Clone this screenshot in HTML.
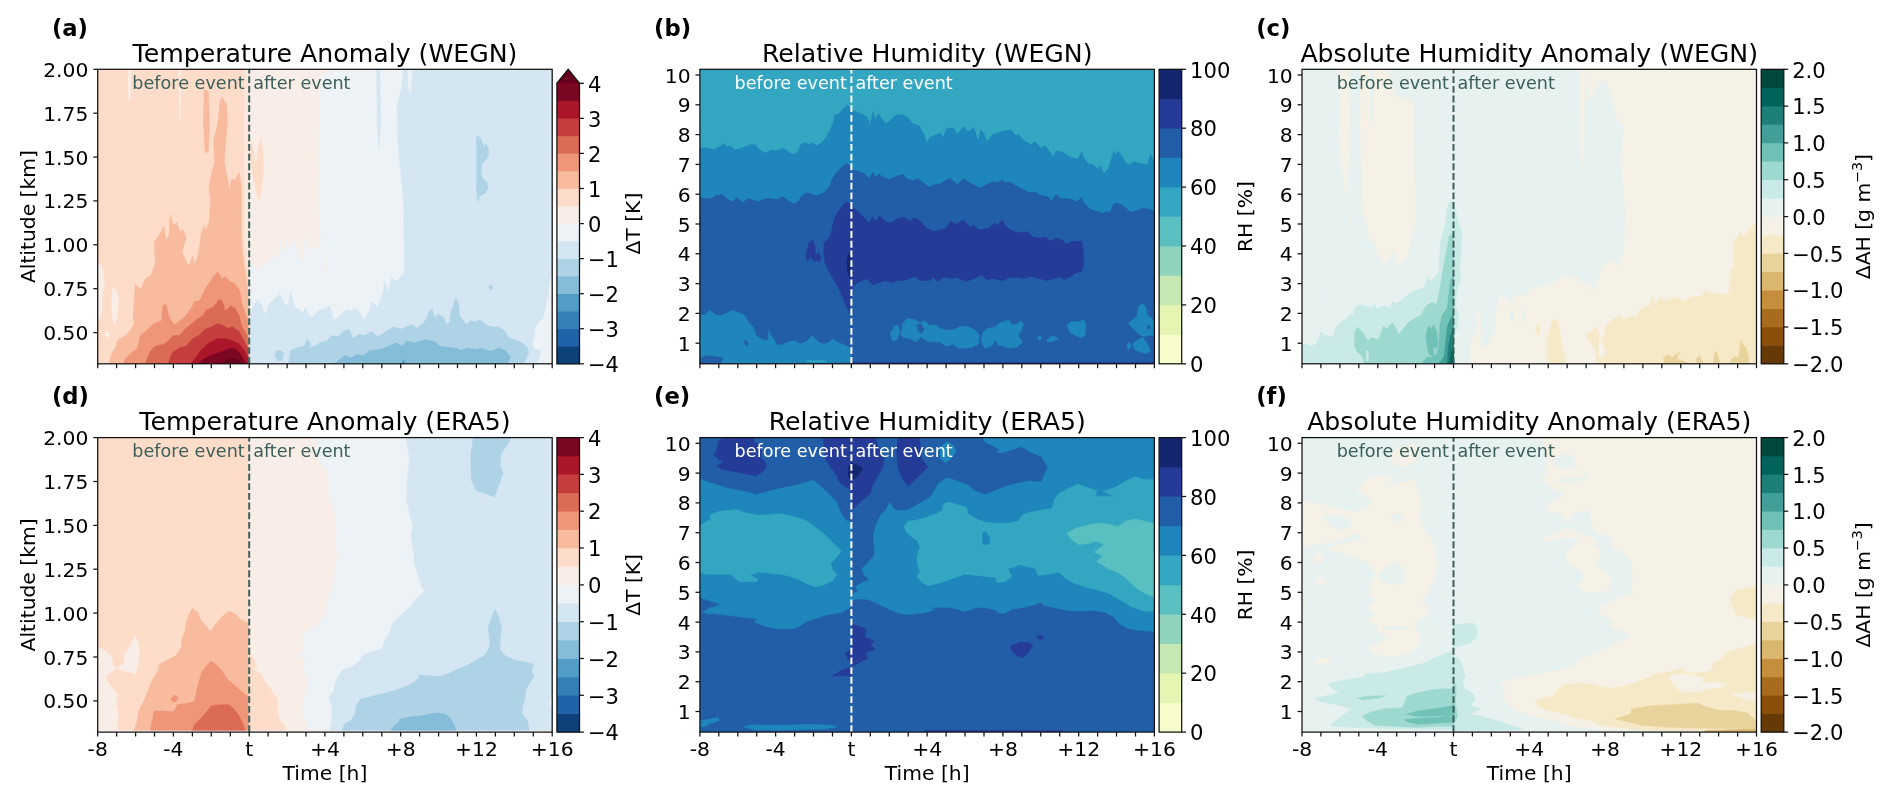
<!DOCTYPE html>
<html lang="en">
<head>
<meta charset="utf-8">
<title>Cold-front composite: temperature and humidity</title>
<style>html,body{margin:0;padding:0;background:#fff}svg{display:block;will-change:transform}</style>
</head>
<body>
<svg width="1892" height="802" viewBox="0 0 1892 802" font-family="'DejaVu Sans','Liberation Sans',sans-serif">
<rect width="1892" height="802" fill="#fff"/>
<g id="panel-a">
<clipPath id="clip-a"><rect x="97.7" y="69.3" width="454.5" height="294.5"/></clipPath>
<g clip-path="url(#clip-a)" shape-rendering="geometricPrecision">
<rect x="97.7" y="69.3" width="454.5" height="294.5" fill="#fddcc9"/>
<polygon points="109.8,364.2 110.9,355.7 116.2,346.2 117.2,340.9 126.8,334.5 131.0,329.2 134.2,322.9 133.1,314.4 134.2,301.7 135.3,284.7 140.6,289.0 145.8,278.4 151.1,275.2 155.4,263.6 154.3,242.4 158.6,236.0 163.9,226.5 166.0,240.3 169.2,235.0 170.2,214.8 173.4,225.4 176.6,222.2 179.7,231.8 182.9,229.7 186.1,238.1 184.0,244.5 181.9,251.9 186.1,261.4 189.3,265.7 192.5,256.1 194.6,264.6 198.8,253.0 200.9,236.0 204.1,225.4 205.2,231.8 209.4,221.2 210.5,200.0 209.0,187.1 211.5,174.4 214.7,162.8 213.6,140.5 217.9,123.6 220.0,102.4 222.1,97.1 226.4,104.5 227.4,123.6 225.3,144.7 224.2,161.7 227.4,178.6 229.5,191.4 231.7,178.6 234.8,180.8 239.1,172.3 241.2,187.1 241.2,229.5 241.2,229.7 242.2,249.8 244.4,266.7 246.5,279.0 247.8,289.0 248.4,297.5 248.6,364.2" fill="#f8bb9e" stroke="#f8bb9e" stroke-width="0.6"/>
<polygon points="204.1,89.7 208.3,91.8 209.4,123.6 208.3,151.1 205.2,153.2 203.5,123.6" fill="#f8bb9e" stroke="#f8bb9e" stroke-width="0.6"/>
<polygon points="98.0,263.6 101.4,265.7 103.1,272.0 104.5,284.7 102.4,293.2 101.8,310.2 99.7,318.6 98.0,318.6" fill="#f9eee7" stroke="#f9eee7" stroke-width="0.6"/>
<polygon points="113.0,286.9 116.2,291.1 118.7,299.6 116.6,318.6 114.1,325.0 111.9,314.4 111.9,295.3" fill="#f9eee7" stroke="#f9eee7" stroke-width="0.6"/>
<polygon points="106.0,331.8 108.1,331.4 109.0,335.6 107.3,338.1 105.6,335.6" fill="#f9eee7" stroke="#f9eee7" stroke-width="0.6"/>
<polygon points="128.3,70.2 131.0,70.2 130.0,99.2 128.5,99.2" fill="#f9eee7" stroke="#f9eee7" stroke-width="0.6"/>
<polygon points="178.9,70.2 180.6,70.2 180.2,121.4 179.3,121.4" fill="#f9eee7" stroke="#f9eee7" stroke-width="0.6"/>
<polygon points="244.4,68.5 247.6,68.5 247.6,262.0 246.6,262.0 244.4,235.0" fill="#fbe7dc" stroke="#fbe7dc" stroke-width="0.6"/>
<polygon points="122.5,364.2 126.8,356.8 137.4,348.3 140.6,335.6 148.0,329.2 153.3,323.9 161.7,320.8 162.8,305.9 166.0,303.8 169.2,317.6 174.4,325.0 179.7,320.8 186.1,315.5 191.4,308.1 194.6,301.7 199.9,300.6 205.2,289.0 210.5,281.6 213.6,276.3 217.9,272.0 222.1,279.4 225.3,276.3 229.5,281.6 234.8,283.7 238.6,289.0 240.1,293.4 242.2,305.1 245.2,313.6 247.3,318.0 248.2,325.0 248.6,364.2" fill="#ee9677" stroke="#ee9677" stroke-width="0.6"/>
<polygon points="144.8,364.2 150.1,351.5 155.4,346.2 164.9,344.1 173.4,335.6 179.7,335.6 185.0,329.2 190.3,325.0 196.7,319.7 203.1,315.5 206.2,310.2 213.6,307.0 218.9,299.6 222.1,300.6 225.3,311.2 230.6,305.9 234.8,308.1 239.1,315.5 241.2,325.0 247.1,335.6 248.6,364.2" fill="#db6b55" stroke="#db6b55" stroke-width="0.6"/>
<polygon points="168.1,364.2 172.3,352.5 178.7,348.3 186.1,346.2 192.5,338.8 198.8,335.6 205.2,329.2 211.5,327.1 216.8,323.9 222.1,325.0 227.4,328.2 232.7,327.1 239.1,331.4 243.3,339.8 248.0,348.3 248.6,364.2" fill="#c53e3d" stroke="#c53e3d" stroke-width="0.6"/>
<polygon points="190.3,364.2 196.7,356.8 200.9,350.4 205.2,346.2 210.5,341.9 217.9,338.8 226.4,338.8 232.7,340.9 239.1,344.1 244.4,350.4 248.0,357.8 248.6,364.2" fill="#ab162a" stroke="#ab162a" stroke-width="0.6"/>
<polygon points="197.8,364.2 203.5,359.3 208.3,356.8 213.6,354.7 222.1,351.5 230.6,348.3 235.9,349.4 240.1,353.6 243.3,358.9 246.3,364.2" fill="#7c0722" stroke="#7c0722" stroke-width="0.6"/>
<polygon points="222.1,364.2 225.3,360.6 232.7,358.5 238.6,360.2 241.6,364.2" fill="#67001f" stroke="#67001f" stroke-width="0.6"/>
<polygon points="249.2,68.5 553.0,68.5 553.0,364.5 249.2,364.5" fill="#ecf2f5" stroke="#ecf2f5" stroke-width="0.6"/>
<polygon points="249.2,68.5 332.9,68.5 332.3,72.3 323.4,72.7 320.2,81.2 319.2,102.4 318.5,144.7 318.1,187.1 318.1,199.8 319.2,221.2 320.2,242.4 317.0,249.8 312.8,244.5 308.6,253.0 305.4,227.5 302.2,261.4 298.0,250.8 293.7,236.0 290.6,248.7 287.4,240.3 283.1,253.0 280.0,235.0 277.8,261.4 274.7,245.6 273.6,257.2 266.2,263.6 257.7,268.9 250.3,263.6 249.2,262.0" fill="#f9eee7" stroke="#f9eee7" stroke-width="0.6"/>
<polygon points="323.8,261.4 325.9,261.4 325.9,273.1 323.8,273.1" fill="#f9eee7" stroke="#f9eee7" stroke-width="0.6"/>
<polygon points="250.3,152.0 251.8,141.0 253.5,150.0 255.3,168.0 256.8,160.0 258.3,146.0 260.8,138.0 263.0,150.0 263.3,175.0 261.2,190.0 258.7,200.0 256.5,192.0 254.0,180.0 251.3,166.0" fill="#fddcc9" stroke="#fddcc9" stroke-width="0.6"/>
<polygon points="249.2,364.2 249.7,318.6 253.5,305.9 257.7,299.6 261.9,305.9 265.1,315.5 269.4,303.8 274.7,298.5 280.0,294.3 284.2,303.8 288.4,305.9 290.6,293.2 294.8,308.1 299.0,309.1 302.2,314.4 305.4,308.1 308.6,315.5 312.8,317.6 318.1,310.2 325.5,309.1 329.7,305.9 332.9,317.6 336.1,319.7 341.4,314.4 346.7,309.1 350.9,311.2 355.2,308.1 359.4,312.3 363.6,320.8 368.9,312.3 372.1,301.7 377.4,307.0 382.7,295.3 384.8,281.6 388.0,293.2 391.2,278.4 396.5,281.6 402.8,274.2 399.2,281.6 404.5,272.0 403.5,200.0 402.4,187.1 400.3,165.9 398.2,144.7 397.1,105.6 402.4,85.4 403.5,68.5 553.0,68.5 553.0,364.5" fill="#d4e6f1" stroke="#d4e6f1" stroke-width="0.6"/>
<polygon points="376.8,69.5 379.7,69.5 380.6,123.6 378.9,146.9 377.2,123.6" fill="#d4e6f1" stroke="#d4e6f1" stroke-width="0.6"/>
<polygon points="407.7,69.5 411.9,69.5 410.7,91.8 409.0,91.8" fill="#ecf2f5" stroke="#ecf2f5" stroke-width="0.6"/>
<polygon points="288.4,364.2 290.6,350.4 299.0,347.2 304.3,346.2 307.5,338.8 310.7,344.1 308.6,348.3 314.9,346.2 321.3,341.9 326.6,340.9 331.9,335.6 338.2,336.7 343.5,331.4 348.8,329.2 353.1,338.8 358.3,334.5 364.7,335.6 372.1,331.4 377.4,336.7 384.8,332.4 393.3,327.1 400.7,328.8 401.4,329.2 407.7,326.1 413.0,325.0 416.2,328.2 422.5,323.9 426.8,318.6 428.9,311.2 432.1,309.1 434.2,317.6 438.4,314.4 443.7,317.6 446.9,325.0 450.1,321.8 450.5,314.4 453.3,305.9 455.4,298.5 458.6,303.8 459.6,315.5 463.9,321.8 467.0,325.0 470.2,320.8 475.5,321.8 479.7,319.7 486.1,325.0 492.5,327.1 498.8,327.1 505.2,331.4 508.3,337.7 513.6,339.8 520.0,341.9 526.4,346.2 528.9,352.5 525.3,360.0 522.8,364.2" fill="#aed3e6" stroke="#aed3e6" stroke-width="0.6"/>
<polygon points="275.7,351.5 280.0,350.0 284.2,353.6 282.1,360.0 277.8,361.0 275.1,355.7" fill="#aed3e6" stroke="#aed3e6" stroke-width="0.6"/>
<polygon points="476.6,135.2 480.8,138.4 484.0,146.9 486.1,143.7 489.3,152.2 486.1,159.6 481.9,163.8 480.8,172.3 482.9,178.6 487.2,182.9 488.2,188.2 485.0,193.5 479.7,195.6 477.6,201.9 476.6,187.1" fill="#aed3e6" stroke="#aed3e6" stroke-width="0.6"/>
<polygon points="488.9,285.8 492.0,285.2 492.9,288.6 490.3,289.8" fill="#aed3e6" stroke="#aed3e6" stroke-width="0.6"/>
<polygon points="332.9,364.2 338.2,361.0 344.6,355.7 350.9,357.8 357.3,354.7 363.6,355.7 370.0,350.4 380.6,349.4 389.1,346.2 395.4,343.0 402.8,346.2 403.5,345.1 406.7,340.9 414.1,343.0 424.7,339.8 435.3,341.9 439.5,346.2 448.0,347.2 456.4,348.3 460.7,350.4 467.0,348.3 475.5,349.4 481.9,348.3 490.3,351.5 498.8,348.3 505.2,350.4 510.5,356.8 506.9,364.2" fill="#84bcd9" stroke="#84bcd9" stroke-width="0.6"/>
<polygon points="401.4,364.2 402.8,361.0 405.0,360.0 404.5,361.0 405.6,364.2" fill="#529dc8" stroke="#529dc8" stroke-width="0.6"/>
<polygon points="552.8,278.4 550.7,278.4 548.6,295.3 543.3,318.6 540.1,320.8 535.9,327.1 534.8,337.7 532.7,344.1 534.8,348.3 542.2,350.4 539.1,358.9 536.5,364.2 552.8,364.2" fill="#ecf2f5" stroke="#ecf2f5" stroke-width="0.6"/>
<polygon points="552.8,348.3 551.4,356.8 548.6,364.2 552.8,364.2" fill="#f9eee7" stroke="#f9eee7" stroke-width="0.6"/>
</g>
<line x1="249.2" y1="363.8" x2="249.2" y2="69.3" stroke="#3b5f5a" stroke-width="2.0" stroke-dasharray="6.85 2.83"/>
<text x="244.7" y="88.6" font-size="17.6" text-anchor="end" fill="#3b5f5a" font-weight="normal">before event</text>
<text x="253.2" y="88.6" font-size="17.6" text-anchor="start" fill="#3b5f5a" font-weight="normal">after event</text>
<rect x="97.7" y="69.3" width="454.5" height="294.5" fill="none" stroke="#111" stroke-width="1.25"/>
<line x1="97.7" y1="363.8" x2="97.7" y2="368.2" stroke="#111" stroke-width="1.25"/>
<line x1="116.6" y1="363.8" x2="116.6" y2="368.2" stroke="#111" stroke-width="1.25"/>
<line x1="135.6" y1="363.8" x2="135.6" y2="368.2" stroke="#111" stroke-width="1.25"/>
<line x1="154.5" y1="363.8" x2="154.5" y2="368.2" stroke="#111" stroke-width="1.25"/>
<line x1="173.4" y1="363.8" x2="173.4" y2="368.2" stroke="#111" stroke-width="1.25"/>
<line x1="192.4" y1="363.8" x2="192.4" y2="368.2" stroke="#111" stroke-width="1.25"/>
<line x1="211.3" y1="363.8" x2="211.3" y2="368.2" stroke="#111" stroke-width="1.25"/>
<line x1="230.3" y1="363.8" x2="230.3" y2="368.2" stroke="#111" stroke-width="1.25"/>
<line x1="249.2" y1="363.8" x2="249.2" y2="368.2" stroke="#111" stroke-width="1.25"/>
<line x1="268.1" y1="363.8" x2="268.1" y2="368.2" stroke="#111" stroke-width="1.25"/>
<line x1="287.1" y1="363.8" x2="287.1" y2="368.2" stroke="#111" stroke-width="1.25"/>
<line x1="306.0" y1="363.8" x2="306.0" y2="368.2" stroke="#111" stroke-width="1.25"/>
<line x1="324.9" y1="363.8" x2="324.9" y2="368.2" stroke="#111" stroke-width="1.25"/>
<line x1="343.9" y1="363.8" x2="343.9" y2="368.2" stroke="#111" stroke-width="1.25"/>
<line x1="362.8" y1="363.8" x2="362.8" y2="368.2" stroke="#111" stroke-width="1.25"/>
<line x1="381.8" y1="363.8" x2="381.8" y2="368.2" stroke="#111" stroke-width="1.25"/>
<line x1="400.7" y1="363.8" x2="400.7" y2="368.2" stroke="#111" stroke-width="1.25"/>
<line x1="419.6" y1="363.8" x2="419.6" y2="368.2" stroke="#111" stroke-width="1.25"/>
<line x1="438.6" y1="363.8" x2="438.6" y2="368.2" stroke="#111" stroke-width="1.25"/>
<line x1="457.5" y1="363.8" x2="457.5" y2="368.2" stroke="#111" stroke-width="1.25"/>
<line x1="476.4" y1="363.8" x2="476.4" y2="368.2" stroke="#111" stroke-width="1.25"/>
<line x1="495.4" y1="363.8" x2="495.4" y2="368.2" stroke="#111" stroke-width="1.25"/>
<line x1="514.3" y1="363.8" x2="514.3" y2="368.2" stroke="#111" stroke-width="1.25"/>
<line x1="533.3" y1="363.8" x2="533.3" y2="368.2" stroke="#111" stroke-width="1.25"/>
<line x1="552.2" y1="363.8" x2="552.2" y2="368.2" stroke="#111" stroke-width="1.25"/>
<line x1="93.3" y1="332.6" x2="97.7" y2="332.6" stroke="#111" stroke-width="1.25"/>
<text x="88.4" y="340.1" font-size="20.3" text-anchor="end" fill="#000" font-weight="normal">0.50</text>
<line x1="93.3" y1="288.7" x2="97.7" y2="288.7" stroke="#111" stroke-width="1.25"/>
<text x="88.4" y="296.2" font-size="20.3" text-anchor="end" fill="#000" font-weight="normal">0.75</text>
<line x1="93.3" y1="244.8" x2="97.7" y2="244.8" stroke="#111" stroke-width="1.25"/>
<text x="88.4" y="252.3" font-size="20.3" text-anchor="end" fill="#000" font-weight="normal">1.00</text>
<line x1="93.3" y1="200.9" x2="97.7" y2="200.9" stroke="#111" stroke-width="1.25"/>
<text x="88.4" y="208.4" font-size="20.3" text-anchor="end" fill="#000" font-weight="normal">1.25</text>
<line x1="93.3" y1="157.1" x2="97.7" y2="157.1" stroke="#111" stroke-width="1.25"/>
<text x="88.4" y="164.6" font-size="20.3" text-anchor="end" fill="#000" font-weight="normal">1.50</text>
<line x1="93.3" y1="113.2" x2="97.7" y2="113.2" stroke="#111" stroke-width="1.25"/>
<text x="88.4" y="120.7" font-size="20.3" text-anchor="end" fill="#000" font-weight="normal">1.75</text>
<line x1="93.3" y1="69.3" x2="97.7" y2="69.3" stroke="#111" stroke-width="1.25"/>
<text x="88.4" y="76.8" font-size="20.3" text-anchor="end" fill="#000" font-weight="normal">2.00</text>
<text x="34.9" y="216.6" font-size="20.3" text-anchor="middle" fill="#000" font-weight="normal" transform="rotate(-90 34.9 216.6)">Altitude [km]</text>
<text x="325.0" y="61.7" font-size="25.2" text-anchor="middle" fill="#000" font-weight="normal">Temperature Anomaly (WEGN)</text>
<text x="51.9" y="36.1" font-size="22.7" text-anchor="start" fill="#000" font-weight="bold">(a)</text>
<rect x="556.9" y="345.97" width="22.6" height="18.13" fill="#0e4179"/>
<rect x="556.9" y="328.44" width="22.6" height="18.13" fill="#1f63a8"/>
<rect x="556.9" y="310.91" width="22.6" height="18.13" fill="#3480b9"/>
<rect x="556.9" y="293.38" width="22.6" height="18.13" fill="#529dc8"/>
<rect x="556.9" y="275.84" width="22.6" height="18.13" fill="#84bcd9"/>
<rect x="556.9" y="258.31" width="22.6" height="18.13" fill="#aed3e6"/>
<rect x="556.9" y="240.78" width="22.6" height="18.13" fill="#d4e6f1"/>
<rect x="556.9" y="223.25" width="22.6" height="18.13" fill="#ecf2f5"/>
<rect x="556.9" y="205.72" width="22.6" height="18.13" fill="#f9eee7"/>
<rect x="556.9" y="188.19" width="22.6" height="18.13" fill="#fddcc9"/>
<rect x="556.9" y="170.66" width="22.6" height="18.13" fill="#f8bb9e"/>
<rect x="556.9" y="153.12" width="22.6" height="18.13" fill="#ee9677"/>
<rect x="556.9" y="135.59" width="22.6" height="18.13" fill="#db6b55"/>
<rect x="556.9" y="118.06" width="22.6" height="18.13" fill="#c53e3d"/>
<rect x="556.9" y="100.53" width="22.6" height="18.13" fill="#ab162a"/>
<rect x="556.9" y="83.00" width="22.6" height="18.13" fill="#7c0722"/>
<polygon points="556.9,83.3 568.2,69.3 579.5,83.3" fill="#67001f"/>
<polygon points="556.9,363.8 556.9,83.3 568.2,69.3 579.5,83.3 579.5,363.8" fill="none" stroke="#111" stroke-width="1.25" stroke-linejoin="miter"/>
<line x1="579.5" y1="363.8" x2="583.9" y2="363.8" stroke="#111" stroke-width="1.25"/>
<text x="587.9" y="372.0" font-size="21.1" text-anchor="start" fill="#000" font-weight="normal">−4</text>
<line x1="579.5" y1="328.7" x2="583.9" y2="328.7" stroke="#111" stroke-width="1.25"/>
<text x="587.9" y="336.9" font-size="21.1" text-anchor="start" fill="#000" font-weight="normal">−3</text>
<line x1="579.5" y1="293.7" x2="583.9" y2="293.7" stroke="#111" stroke-width="1.25"/>
<text x="587.9" y="301.9" font-size="21.1" text-anchor="start" fill="#000" font-weight="normal">−2</text>
<line x1="579.5" y1="258.6" x2="583.9" y2="258.6" stroke="#111" stroke-width="1.25"/>
<text x="587.9" y="266.8" font-size="21.1" text-anchor="start" fill="#000" font-weight="normal">−1</text>
<line x1="579.5" y1="223.6" x2="583.9" y2="223.6" stroke="#111" stroke-width="1.25"/>
<text x="587.9" y="231.8" font-size="21.1" text-anchor="start" fill="#000" font-weight="normal">0</text>
<line x1="579.5" y1="188.5" x2="583.9" y2="188.5" stroke="#111" stroke-width="1.25"/>
<text x="587.9" y="196.7" font-size="21.1" text-anchor="start" fill="#000" font-weight="normal">1</text>
<line x1="579.5" y1="153.4" x2="583.9" y2="153.4" stroke="#111" stroke-width="1.25"/>
<text x="587.9" y="161.6" font-size="21.1" text-anchor="start" fill="#000" font-weight="normal">2</text>
<line x1="579.5" y1="118.4" x2="583.9" y2="118.4" stroke="#111" stroke-width="1.25"/>
<text x="587.9" y="126.6" font-size="21.1" text-anchor="start" fill="#000" font-weight="normal">3</text>
<line x1="579.5" y1="83.3" x2="583.9" y2="83.3" stroke="#111" stroke-width="1.25"/>
<text x="587.9" y="91.5" font-size="21.1" text-anchor="start" fill="#000" font-weight="normal">4</text>
<text x="640.0" y="223.6" font-size="20.3" text-anchor="middle" fill="#000" font-weight="normal" transform="rotate(-90 640.0 223.6)">ΔT [K]</text>
</g>
<g id="panel-b">
<clipPath id="clip-b"><rect x="699.9" y="69.3" width="454.5" height="294.5"/></clipPath>
<g clip-path="url(#clip-b)" shape-rendering="geometricPrecision">
<rect x="699.9" y="69.3" width="454.5" height="294.5" fill="#33a7c2"/>
<polygon points="697.0,147.9 700.2,147.9 707.6,147.9 713.9,150.0 719.2,146.9 723.5,143.7 726.7,146.9 729.8,145.8 735.1,150.0 742.6,147.9 750.0,144.7 755.3,144.7 759.5,150.0 765.9,153.2 771.2,150.0 776.4,151.1 782.8,147.9 790.2,153.2 795.5,154.3 798.7,150.0 800.8,144.7 805.1,142.6 809.3,144.7 812.5,142.6 816.7,145.8 822.0,142.6 826.2,137.3 830.5,128.9 833.7,121.4 834.7,115.1 838.9,114.0 843.2,108.7 847.4,105.6 850.6,107.7 851.2,109.8 856.5,111.9 861.8,114.0 867.1,117.2 869.9,125.7 872.8,111.9 875.6,119.3 878.8,114.0 882.0,119.3 886.2,123.6 890.4,120.4 895.7,115.1 902.1,114.7 907.4,117.2 912.7,123.6 919.0,125.7 923.3,133.1 927.1,143.7 929.6,137.3 934.9,135.2 940.2,133.1 943.4,137.3 946.6,128.9 952.9,127.8 957.2,134.2 963.5,126.7 967.8,132.0 974.1,127.8 977.9,141.6 980.9,129.9 983.7,133.1 986.8,141.6 993.2,134.2 997.0,133.1 1003.4,131.0 1010.8,129.9 1016.1,136.3 1018.2,134.2 1023.5,140.5 1030.9,144.7 1035.1,141.6 1040.4,147.9 1045.7,145.8 1050.0,152.2 1053.1,157.5 1056.3,151.1 1062.7,152.2 1069.0,156.4 1075.4,158.5 1078.6,158.5 1081.3,152.2 1084.9,159.6 1088.1,163.8 1093.4,164.9 1097.6,169.1 1100.4,165.9 1104.0,173.3 1108.2,169.1 1111.4,159.6 1113.5,152.2 1116.1,154.3 1118.8,151.1 1122.0,156.4 1126.2,163.8 1129.4,164.9 1134.7,161.7 1141.1,163.8 1147.4,164.9 1150.6,154.3 1153.8,161.7 1158.0,162.8 1157.0,364.5 697.0,364.5" fill="#1e86bb" stroke="#1e86bb" stroke-width="0.6"/>
<polygon points="697.0,197.7 700.2,197.7 705.5,198.8 710.8,198.8 716.1,195.6 722.4,194.5 727.7,199.8 732.0,201.9 737.3,197.7 742.6,203.0 747.8,198.8 752.1,199.8 758.4,201.9 764.8,198.8 771.2,198.8 776.4,199.8 782.8,196.7 788.1,200.9 794.5,204.1 798.7,200.9 801.9,195.6 807.2,192.4 812.5,194.5 817.8,195.6 824.1,192.4 829.4,187.1 832.6,178.6 836.8,172.3 842.1,167.0 846.4,163.8 850.6,165.9 851.2,170.2 857.6,171.2 863.9,173.3 869.2,178.6 872.8,172.3 875.6,177.6 878.8,174.4 884.1,177.6 889.4,179.7 895.7,176.5 903.1,174.4 906.3,178.6 912.7,180.8 918.0,178.6 923.3,182.9 928.6,187.1 933.9,185.0 940.2,183.9 946.6,179.7 950.8,178.6 957.2,185.0 963.5,178.6 969.9,182.9 974.1,185.0 979.4,188.2 985.8,185.0 993.2,181.8 997.0,182.9 1002.3,179.7 1005.5,182.9 1009.7,181.8 1016.1,186.1 1022.4,189.2 1028.8,192.4 1035.1,192.4 1041.5,195.6 1047.8,196.7 1051.0,200.9 1056.3,194.5 1060.6,198.8 1066.9,198.8 1072.2,199.8 1077.5,201.9 1081.3,197.7 1084.9,204.1 1090.2,209.4 1096.6,211.5 1102.9,213.6 1107.2,211.5 1110.3,212.5 1113.5,204.1 1116.7,203.0 1122.0,205.1 1126.2,208.3 1130.5,212.5 1136.8,210.4 1143.2,208.3 1149.5,209.4 1158.0,212.5 1157.0,364.5 697.0,364.5" fill="#225da8" stroke="#225da8" stroke-width="0.6"/>
<polygon points="850.0,313.3 846.4,305.9 842.1,295.3 837.9,286.9 833.7,279.4 829.4,272.0 825.2,263.6 823.7,253.0 824.1,242.4 828.4,239.2 831.5,231.8 833.7,221.2 836.8,213.8 842.1,206.4 846.4,202.1 850.6,203.8 851.2,206.4 856.5,210.6 862.9,215.9 869.2,223.3 872.4,216.9 875.6,221.2 879.8,215.9 885.1,221.2 890.4,223.3 896.8,219.1 904.2,216.9 909.5,221.2 914.8,218.0 920.1,221.2 925.4,227.5 933.9,231.8 940.2,229.7 945.5,228.6 950.8,221.2 956.1,224.4 963.5,220.1 969.9,227.5 974.1,225.4 978.4,229.7 988.9,228.6 994.2,223.3 997.0,225.4 1002.3,220.1 1006.5,227.5 1013.9,231.8 1020.3,232.8 1027.7,231.8 1032.0,237.1 1039.4,238.1 1045.7,237.1 1050.0,241.3 1056.3,238.1 1062.7,240.3 1065.9,244.5 1072.2,241.3 1081.7,241.3 1083.4,250.8 1083.9,263.6 1081.7,271.0 1075.4,273.1 1071.2,276.3 1064.8,279.4 1059.5,277.3 1054.2,278.4 1046.8,280.5 1039.4,278.4 1030.9,276.3 1024.5,278.4 1016.1,277.3 1009.7,277.3 1003.4,280.5 997.0,279.4 993.2,278.4 986.8,279.4 981.5,275.2 974.1,278.4 965.6,281.6 957.2,277.3 952.9,278.4 943.4,277.3 937.0,281.6 933.9,277.3 929.6,280.5 920.1,280.5 914.8,276.3 904.2,280.5 897.8,280.5 891.5,282.6 885.1,280.5 878.8,282.6 872.4,284.7 867.1,278.4 859.7,281.6 854.4,284.7 851.2,291.1 849.5,310.2" fill="#243c98" stroke="#243c98" stroke-width="0.6"/>
<polygon points="807.2,261.4 806.1,253.0 809.3,242.4 812.5,239.2 814.6,245.6 815.6,255.1 818.8,253.0 820.9,257.2 819.9,261.4 813.5,260.4 810.3,256.1" fill="#243c98" stroke="#243c98" stroke-width="0.6"/>
<polygon points="847.8,256.1 850.0,253.0 850.8,263.6 850.4,278.4 847.8,272.0 847.0,263.6" fill="#13266f" stroke="#13266f" stroke-width="0.6"/>
<polygon points="697.0,315.5 700.2,315.5 705.5,314.4 709.7,310.2 715.0,314.4 720.3,315.5 726.7,313.3 732.0,310.2 738.3,312.3 744.7,315.5 748.9,322.9 753.1,327.1 756.3,335.6 762.7,339.8 768.0,340.9 769.0,330.3 771.2,335.6 774.3,339.8 776.4,345.1 781.7,345.1 788.1,341.9 794.5,340.9 800.8,344.1 807.2,340.9 812.5,335.6 816.7,340.9 822.0,344.1 828.4,343.0 832.6,338.8 837.9,342.4 845.3,345.3 850.6,348.3 850.2,348.7 850.2,362.1 697.0,364.5" fill="#1e86bb" stroke="#1e86bb" stroke-width="0.6"/>
<polygon points="699.1,358.9 705.5,355.7 713.9,356.8 722.8,357.8 720.3,364.2 699.1,364.2" fill="#225da8" stroke="#225da8" stroke-width="0.6"/>
<polygon points="743.6,341.5 746.2,340.3 748.3,344.1 746.2,345.8" fill="#225da8" stroke="#225da8" stroke-width="0.6"/>
<polygon points="807.2,360.4 826.2,361.0 826.2,362.3 807.2,361.9" fill="#33a7c2" stroke="#33a7c2" stroke-width="0.6"/>
<polygon points="890.4,333.5 894.7,326.1 897.8,325.0 900.0,332.4 896.8,339.8 892.6,340.9" fill="#1e86bb" stroke="#1e86bb" stroke-width="0.6"/>
<polygon points="903.1,322.9 907.4,318.6 914.8,319.7 920.1,322.9 924.3,320.8 929.6,325.0 936.0,325.0 941.3,329.2 948.7,330.3 955.1,329.2 961.4,326.1 968.8,327.1 975.2,330.3 979.4,335.6 978.4,344.1 972.0,347.2 963.5,348.3 957.2,347.2 952.9,344.1 946.6,346.2 940.2,341.9 931.7,341.9 926.4,340.9 921.2,336.7 915.9,341.9 910.6,338.8 905.3,337.7 901.0,335.6" fill="#1e86bb" stroke="#1e86bb" stroke-width="0.6"/>
<polygon points="916.9,325.0 921.2,323.9 924.3,329.2 921.2,333.5 918.0,330.3" fill="#225da8" stroke="#225da8" stroke-width="0.6"/>
<polygon points="982.6,332.4 987.9,328.2 995.3,327.1 999.5,322.9 1007.0,321.8 1000.2,322.9 1005.5,321.8 1008.7,319.7 1011.8,325.0 1017.1,323.9 1020.3,320.8 1023.5,323.9 1021.4,330.3 1018.2,335.6 1022.4,341.9 1017.1,347.2 1009.7,348.3 1003.4,346.2 997.0,344.1 999.5,346.2 995.3,339.8 991.1,346.2 984.7,348.3 981.5,341.9" fill="#1e86bb" stroke="#1e86bb" stroke-width="0.6"/>
<polygon points="1066.9,325.0 1071.2,321.8 1078.6,321.8 1083.9,319.7 1086.0,325.0 1084.9,335.6 1080.7,337.7 1075.4,335.6 1070.1,332.4" fill="#1e86bb" stroke="#1e86bb" stroke-width="0.6"/>
<polygon points="1046.8,339.8 1053.1,335.6 1058.4,338.8 1054.2,340.9 1047.8,341.9" fill="#1e86bb" stroke="#1e86bb" stroke-width="0.6"/>
<polygon points="1037.3,337.7 1039.8,335.6 1041.9,338.1 1039.4,340.3" fill="#1e86bb" stroke="#1e86bb" stroke-width="0.6"/>
<polygon points="1128.4,322.9 1136.8,316.5 1138.9,305.9 1142.1,303.4 1145.3,305.9 1147.4,315.5 1154.8,320.8 1158.0,320.8 1158.0,335.6 1149.5,335.6 1143.2,336.7 1136.8,332.4 1132.6,328.2" fill="#1e86bb" stroke="#1e86bb" stroke-width="0.6"/>
<polygon points="1147.0,326.1 1149.5,325.0 1150.4,328.4 1147.8,329.2" fill="#225da8" stroke="#225da8" stroke-width="0.6"/>
<polygon points="1132.6,344.1 1137.9,339.8 1143.2,337.7 1147.4,344.1 1150.6,351.5 1145.3,353.6 1138.9,351.5 1134.7,349.4" fill="#1e86bb" stroke="#1e86bb" stroke-width="0.6"/>
<polygon points="1126.7,345.1 1129.4,342.4 1131.5,346.2 1128.4,349.4" fill="#1e86bb" stroke="#1e86bb" stroke-width="0.6"/>
<polygon points="852.0,362.3 1157.0,362.3 1157.0,364.5 852.0,364.5" fill="#243c98" stroke="#243c98" stroke-width="0.6"/>
</g>
<line x1="851.4" y1="363.8" x2="851.4" y2="69.3" stroke="#ffffff" stroke-width="2.0" stroke-dasharray="6.85 2.83"/>
<text x="846.9" y="88.6" font-size="17.6" text-anchor="end" fill="#ffffff" font-weight="normal">before event</text>
<text x="855.4" y="88.6" font-size="17.6" text-anchor="start" fill="#ffffff" font-weight="normal">after event</text>
<rect x="699.9" y="69.3" width="454.5" height="294.5" fill="none" stroke="#111" stroke-width="1.25"/>
<line x1="699.9" y1="363.8" x2="699.9" y2="368.2" stroke="#111" stroke-width="1.25"/>
<line x1="718.8" y1="363.8" x2="718.8" y2="368.2" stroke="#111" stroke-width="1.25"/>
<line x1="737.8" y1="363.8" x2="737.8" y2="368.2" stroke="#111" stroke-width="1.25"/>
<line x1="756.7" y1="363.8" x2="756.7" y2="368.2" stroke="#111" stroke-width="1.25"/>
<line x1="775.6" y1="363.8" x2="775.6" y2="368.2" stroke="#111" stroke-width="1.25"/>
<line x1="794.6" y1="363.8" x2="794.6" y2="368.2" stroke="#111" stroke-width="1.25"/>
<line x1="813.5" y1="363.8" x2="813.5" y2="368.2" stroke="#111" stroke-width="1.25"/>
<line x1="832.5" y1="363.8" x2="832.5" y2="368.2" stroke="#111" stroke-width="1.25"/>
<line x1="851.4" y1="363.8" x2="851.4" y2="368.2" stroke="#111" stroke-width="1.25"/>
<line x1="870.3" y1="363.8" x2="870.3" y2="368.2" stroke="#111" stroke-width="1.25"/>
<line x1="889.3" y1="363.8" x2="889.3" y2="368.2" stroke="#111" stroke-width="1.25"/>
<line x1="908.2" y1="363.8" x2="908.2" y2="368.2" stroke="#111" stroke-width="1.25"/>
<line x1="927.1" y1="363.8" x2="927.1" y2="368.2" stroke="#111" stroke-width="1.25"/>
<line x1="946.1" y1="363.8" x2="946.1" y2="368.2" stroke="#111" stroke-width="1.25"/>
<line x1="965.0" y1="363.8" x2="965.0" y2="368.2" stroke="#111" stroke-width="1.25"/>
<line x1="984.0" y1="363.8" x2="984.0" y2="368.2" stroke="#111" stroke-width="1.25"/>
<line x1="1002.9" y1="363.8" x2="1002.9" y2="368.2" stroke="#111" stroke-width="1.25"/>
<line x1="1021.8" y1="363.8" x2="1021.8" y2="368.2" stroke="#111" stroke-width="1.25"/>
<line x1="1040.8" y1="363.8" x2="1040.8" y2="368.2" stroke="#111" stroke-width="1.25"/>
<line x1="1059.7" y1="363.8" x2="1059.7" y2="368.2" stroke="#111" stroke-width="1.25"/>
<line x1="1078.7" y1="363.8" x2="1078.7" y2="368.2" stroke="#111" stroke-width="1.25"/>
<line x1="1097.6" y1="363.8" x2="1097.6" y2="368.2" stroke="#111" stroke-width="1.25"/>
<line x1="1116.5" y1="363.8" x2="1116.5" y2="368.2" stroke="#111" stroke-width="1.25"/>
<line x1="1135.5" y1="363.8" x2="1135.5" y2="368.2" stroke="#111" stroke-width="1.25"/>
<line x1="1154.4" y1="363.8" x2="1154.4" y2="368.2" stroke="#111" stroke-width="1.25"/>
<line x1="695.5" y1="343.2" x2="699.9" y2="343.2" stroke="#111" stroke-width="1.25"/>
<text x="690.6" y="350.7" font-size="20.3" text-anchor="end" fill="#000" font-weight="normal">1</text>
<line x1="695.5" y1="313.4" x2="699.9" y2="313.4" stroke="#111" stroke-width="1.25"/>
<text x="690.6" y="320.9" font-size="20.3" text-anchor="end" fill="#000" font-weight="normal">2</text>
<line x1="695.5" y1="283.6" x2="699.9" y2="283.6" stroke="#111" stroke-width="1.25"/>
<text x="690.6" y="291.1" font-size="20.3" text-anchor="end" fill="#000" font-weight="normal">3</text>
<line x1="695.5" y1="253.8" x2="699.9" y2="253.8" stroke="#111" stroke-width="1.25"/>
<text x="690.6" y="261.3" font-size="20.3" text-anchor="end" fill="#000" font-weight="normal">4</text>
<line x1="695.5" y1="224.0" x2="699.9" y2="224.0" stroke="#111" stroke-width="1.25"/>
<text x="690.6" y="231.5" font-size="20.3" text-anchor="end" fill="#000" font-weight="normal">5</text>
<line x1="695.5" y1="194.2" x2="699.9" y2="194.2" stroke="#111" stroke-width="1.25"/>
<text x="690.6" y="201.7" font-size="20.3" text-anchor="end" fill="#000" font-weight="normal">6</text>
<line x1="695.5" y1="164.4" x2="699.9" y2="164.4" stroke="#111" stroke-width="1.25"/>
<text x="690.6" y="171.9" font-size="20.3" text-anchor="end" fill="#000" font-weight="normal">7</text>
<line x1="695.5" y1="134.6" x2="699.9" y2="134.6" stroke="#111" stroke-width="1.25"/>
<text x="690.6" y="142.1" font-size="20.3" text-anchor="end" fill="#000" font-weight="normal">8</text>
<line x1="695.5" y1="104.8" x2="699.9" y2="104.8" stroke="#111" stroke-width="1.25"/>
<text x="690.6" y="112.3" font-size="20.3" text-anchor="end" fill="#000" font-weight="normal">9</text>
<line x1="695.5" y1="75.0" x2="699.9" y2="75.0" stroke="#111" stroke-width="1.25"/>
<text x="690.6" y="82.5" font-size="20.3" text-anchor="end" fill="#000" font-weight="normal">10</text>
<text x="927.2" y="61.7" font-size="25.2" text-anchor="middle" fill="#000" font-weight="normal">Relative Humidity (WEGN)</text>
<text x="654.1" y="36.1" font-size="22.7" text-anchor="start" fill="#000" font-weight="bold">(b)</text>
<rect x="1159.1" y="334.05" width="22.6" height="30.05" fill="#f8fcca"/>
<rect x="1159.1" y="304.60" width="22.6" height="30.05" fill="#e6f5b2"/>
<rect x="1159.1" y="275.15" width="22.6" height="30.05" fill="#c6e9b4"/>
<rect x="1159.1" y="245.70" width="22.6" height="30.05" fill="#8ed3ba"/>
<rect x="1159.1" y="216.25" width="22.6" height="30.05" fill="#59bfc0"/>
<rect x="1159.1" y="186.80" width="22.6" height="30.05" fill="#33a7c2"/>
<rect x="1159.1" y="157.35" width="22.6" height="30.05" fill="#1e86bb"/>
<rect x="1159.1" y="127.90" width="22.6" height="30.05" fill="#225da8"/>
<rect x="1159.1" y="98.45" width="22.6" height="30.05" fill="#243c98"/>
<rect x="1159.1" y="69.00" width="22.6" height="30.05" fill="#13266f"/>
<rect x="1159.1" y="69.3" width="22.6" height="294.5" fill="none" stroke="#111" stroke-width="1.25"/>
<line x1="1181.7" y1="363.8" x2="1186.1" y2="363.8" stroke="#111" stroke-width="1.25"/>
<text x="1190.1" y="372.0" font-size="21.1" text-anchor="start" fill="#000" font-weight="normal">0</text>
<line x1="1181.7" y1="304.9" x2="1186.1" y2="304.9" stroke="#111" stroke-width="1.25"/>
<text x="1190.1" y="313.1" font-size="21.1" text-anchor="start" fill="#000" font-weight="normal">20</text>
<line x1="1181.7" y1="246.0" x2="1186.1" y2="246.0" stroke="#111" stroke-width="1.25"/>
<text x="1190.1" y="254.2" font-size="21.1" text-anchor="start" fill="#000" font-weight="normal">40</text>
<line x1="1181.7" y1="187.1" x2="1186.1" y2="187.1" stroke="#111" stroke-width="1.25"/>
<text x="1190.1" y="195.3" font-size="21.1" text-anchor="start" fill="#000" font-weight="normal">60</text>
<line x1="1181.7" y1="128.2" x2="1186.1" y2="128.2" stroke="#111" stroke-width="1.25"/>
<text x="1190.1" y="136.4" font-size="21.1" text-anchor="start" fill="#000" font-weight="normal">80</text>
<line x1="1181.7" y1="69.3" x2="1186.1" y2="69.3" stroke="#111" stroke-width="1.25"/>
<text x="1190.1" y="77.5" font-size="21.1" text-anchor="start" fill="#000" font-weight="normal">100</text>
<text x="1252.3" y="216.6" font-size="20.3" text-anchor="middle" fill="#000" font-weight="normal" transform="rotate(-90 1252.3 216.6)">RH [%]</text>
</g>
<g id="panel-c">
<clipPath id="clip-c"><rect x="1302.0" y="69.3" width="454.5" height="294.5"/></clipPath>
<g clip-path="url(#clip-c)" shape-rendering="geometricPrecision">
<rect x="1302.0" y="69.3" width="454.5" height="294.5" fill="#e6f1f0"/>
<polygon points="1339.3,68.5 1348.8,68.5 1349.8,113.0 1348.8,155.3 1346.7,195.6 1344.6,187.1 1340.3,155.3 1338.8,140.5 1340.3,102.4" fill="#f5f1e6" stroke="#f5f1e6" stroke-width="0.6"/>
<polygon points="1360.4,68.5 1385.9,68.5 1392.2,81.2 1396.5,100.3 1399.6,95.0 1402.8,99.2 1413.4,101.3 1414.5,165.9 1415.5,208.3 1415.5,212.7 1414.5,227.5 1410.2,242.4 1409.2,250.8 1407.1,257.2 1402.8,259.3 1399.6,266.7 1396.5,261.4 1394.3,249.8 1392.2,250.8 1389.0,260.4 1384.8,262.5 1382.7,261.4 1377.4,253.0 1374.2,240.3 1372.1,242.4 1368.9,238.1 1366.8,221.2 1362.6,212.7 1361.5,200.0 1361.5,187.1 1360.4,123.6" fill="#f5f1e6" stroke="#f5f1e6" stroke-width="0.6"/>
<polygon points="1370.2,68.5 1373.2,68.5 1372.7,123.6 1371.0,123.6" fill="#e6f1f0" stroke="#e6f1f0" stroke-width="0.6"/>
<polygon points="1310.7,292.8 1312.6,292.2 1313.0,297.9 1311.1,298.7" fill="#f5f1e6" stroke="#f5f1e6" stroke-width="0.6"/>
<polygon points="1348.2,216.9 1349.4,216.9 1349.4,226.5 1348.2,226.5" fill="#f5f1e6" stroke="#f5f1e6" stroke-width="0.6"/>
<polygon points="1579.3,68.5 1585.7,68.5 1584.6,123.6 1582.9,168.1 1580.8,144.7" fill="#f5f1e6" stroke="#f5f1e6" stroke-width="0.6"/>
<polygon points="1470.2,364.2 1470.2,339.8 1473.4,336.7 1476.5,335.6 1477.6,310.2 1479.7,309.1 1480.8,335.6 1482.9,352.5 1484.0,344.1 1487.1,348.3 1490.3,339.8 1494.6,335.6 1496.7,310.2 1499.8,293.2 1502.0,299.6 1506.2,297.5 1511.5,303.8 1514.7,296.4 1518.9,294.3 1524.2,296.4 1529.5,291.1 1532.7,286.9 1535.9,290.0 1539.0,285.8 1544.3,286.9 1552.8,283.7 1558.1,278.4 1564.5,276.3 1570.8,279.4 1576.1,274.2 1580.4,281.6 1584.6,283.7 1587.8,282.6 1592.0,290.0 1597.3,284.7 1599.4,274.2 1601.5,268.9 1605.8,266.7 1599.0,268.9 1605.4,264.6 1611.7,260.4 1617.0,263.6 1620.2,265.7 1621.2,256.1 1624.4,250.8 1625.5,200.0 1624.8,208.3 1624.0,191.4 1621.9,174.4 1621.2,157.5 1622.7,140.5 1623.4,123.6 1618.1,121.4 1615.9,113.0 1611.7,96.0 1607.5,83.3 1603.2,72.7 1609.0,76.9 1597.3,85.4 1593.1,96.0 1588.8,100.3 1586.7,81.2 1586.7,68.5 1758.0,68.5 1758.0,364.5" fill="#f5f1e6" stroke="#f5f1e6" stroke-width="0.6"/>
<polygon points="1510.4,310.2 1513.6,310.2 1513.6,320.8 1510.9,320.8" fill="#e6f1f0" stroke="#e6f1f0" stroke-width="0.6"/>
<polygon points="1522.1,310.2 1524.2,310.2 1524.2,321.2 1522.3,321.2" fill="#e6f1f0" stroke="#e6f1f0" stroke-width="0.6"/>
<polygon points="1547.5,337.7 1550.7,327.1 1552.8,319.7 1557.1,320.8 1559.2,329.2 1561.3,339.8 1563.4,352.5 1566.6,364.2 1548.6,364.2 1546.9,352.5" fill="#f6e9c7" stroke="#f6e9c7" stroke-width="0.6"/>
<polygon points="1535.9,328.2 1538.4,322.5 1539.7,333.5 1537.1,334.5" fill="#f6e9c7" stroke="#f6e9c7" stroke-width="0.6"/>
<polygon points="1585.7,335.6 1588.8,332.4 1593.1,331.4 1595.2,326.1 1598.4,332.4 1601.5,339.8 1604.7,335.6 1605.8,326.1 1609.0,325.0 1604.3,329.2 1608.5,323.9 1611.7,320.8 1619.1,315.5 1624.4,319.7 1630.8,316.5 1637.1,317.6 1639.3,310.2 1644.6,308.1 1649.8,305.9 1652.0,297.5 1655.1,303.8 1659.4,298.5 1666.8,300.6 1673.2,297.5 1678.4,298.5 1683.7,301.7 1690.1,297.5 1695.4,296.4 1700.7,297.5 1706.0,290.0 1711.3,293.2 1717.6,294.3 1728.2,294.3 1730.4,284.7 1730.8,272.0 1733.5,265.7 1733.5,242.4 1737.8,237.1 1739.9,231.8 1743.1,237.1 1747.3,231.8 1751.5,226.5 1755.8,223.3 1760.0,221.2 1760.0,364.2 1597.3,364.2 1595.2,348.3 1589.9,341.9" fill="#f6e9c7" stroke="#f6e9c7" stroke-width="0.6"/>
<polygon points="1599.0,336.7 1602.2,339.8 1600.7,346.2 1603.7,348.7 1605.4,353.0 1602.2,357.8 1599.0,357.2" fill="#f5f1e6" stroke="#f5f1e6" stroke-width="0.6"/>
<polygon points="1598.6,346.2 1602.0,343.0 1604.7,348.3 1603.7,356.8 1599.8,357.8" fill="#f5f1e6" stroke="#f5f1e6" stroke-width="0.6"/>
<polygon points="1663.6,356.8 1668.9,354.7 1672.1,357.8 1679.5,352.5 1676.3,358.9 1683.7,361.0 1690.1,364.2 1664.7,364.2" fill="#e9d39d" stroke="#e9d39d" stroke-width="0.6"/>
<polygon points="1696.5,358.9 1699.6,355.7 1703.9,364.2 1696.5,364.2" fill="#e9d39d" stroke="#e9d39d" stroke-width="0.6"/>
<polygon points="1713.4,364.2 1714.5,352.5 1716.6,351.5 1718.7,358.9 1720.8,364.2" fill="#e9d39d" stroke="#e9d39d" stroke-width="0.6"/>
<polygon points="1730.4,364.2 1731.4,358.9 1735.7,356.8 1738.8,357.8 1740.9,339.8 1744.1,346.2 1746.2,348.3 1748.4,356.8 1748.4,364.2" fill="#e9d39d" stroke="#e9d39d" stroke-width="0.6"/>
<polygon points="1301.1,364.2 1301.1,346.2 1305.4,344.1 1311.7,346.2 1315.9,344.1 1319.1,337.7 1321.2,331.4 1323.4,335.6 1328.7,335.6 1332.9,337.7 1336.1,327.1 1341.4,321.8 1346.7,318.6 1349.8,314.4 1353.0,315.5 1355.1,308.1 1360.4,304.9 1366.8,307.0 1372.1,308.1 1374.2,303.8 1377.4,309.1 1383.7,305.9 1390.1,308.1 1392.2,301.7 1396.5,303.8 1402.8,299.6 1407.1,295.3 1413.4,291.1 1421.9,289.0 1426.1,284.7 1427.8,277.3 1430.4,281.6 1434.6,277.3 1438.8,272.0 1440.5,242.4 1445.2,225.4 1447.3,208.5 1450.5,202.1 1447.3,208.3 1450.5,201.9 1453.0,200.9 1453.7,204.2 1458.5,223.3 1461.7,231.8 1460.7,255.1 1459.6,269.9 1460.7,278.4 1457.5,286.9 1455.4,305.9 1458.5,314.4 1457.5,327.1 1455.4,331.4 1453.7,335.6 1453.2,364.2" fill="#c9eae6" stroke="#c9eae6" stroke-width="0.6"/>
<polygon points="1364.7,364.2 1362.6,356.8 1356.2,350.4 1354.5,344.1 1355.1,331.4 1357.3,327.1 1362.6,332.4 1367.9,340.9 1371.0,337.7 1378.4,339.8 1381.6,331.4 1383.7,326.1 1386.9,329.2 1392.2,322.9 1395.4,327.1 1398.6,334.5 1402.8,329.2 1409.2,321.8 1414.5,318.6 1420.8,315.5 1426.1,305.9 1431.4,302.8 1436.7,303.8 1439.9,289.0 1443.1,269.9 1447.3,246.6 1449.4,236.0 1453.2,233.9 1453.7,364.2" fill="#9dd9d0" stroke="#9dd9d0" stroke-width="0.6"/>
<polygon points="1366.4,350.8 1368.1,350.8 1368.5,360.6 1366.4,360.6" fill="#c9eae6" stroke="#c9eae6" stroke-width="0.6"/>
<polygon points="1426.1,335.6 1428.2,326.1 1431.4,329.2 1433.5,325.0 1436.7,331.4 1437.8,344.1 1434.6,356.8 1429.3,354.7 1427.2,346.2" fill="#70c1b6" stroke="#70c1b6" stroke-width="0.6"/>
<polygon points="1421.9,364.2 1426.1,357.8 1434.6,356.8 1438.8,348.3 1439.9,327.1 1442.0,315.5 1447.3,308.1 1450.5,280.5 1453.2,276.3 1453.7,364.2" fill="#70c1b6" stroke="#70c1b6" stroke-width="0.6"/>
<polygon points="1433.7,348.3 1435.9,347.9 1436.3,354.2 1434.2,354.7" fill="#9dd9d0" stroke="#9dd9d0" stroke-width="0.6"/>
<polygon points="1438.8,364.2 1444.1,356.8 1446.2,337.7 1447.3,327.1 1450.5,318.6 1453.2,314.4 1453.7,364.2" fill="#419f97" stroke="#419f97" stroke-width="0.6"/>
<polygon points="1447.3,364.2 1448.4,348.3 1450.5,335.6 1453.2,327.1 1453.7,364.2" fill="#1d8078" stroke="#1d8078" stroke-width="0.6"/>
<polygon points="1449.8,364.2 1451.5,352.5 1453.2,348.3 1453.7,364.2" fill="#016259" stroke="#016259" stroke-width="0.6"/>
</g>
<line x1="1453.5" y1="363.8" x2="1453.5" y2="69.3" stroke="#3b5f5a" stroke-width="2.0" stroke-dasharray="6.85 2.83"/>
<text x="1449.0" y="88.6" font-size="17.6" text-anchor="end" fill="#3b5f5a" font-weight="normal">before event</text>
<text x="1457.5" y="88.6" font-size="17.6" text-anchor="start" fill="#3b5f5a" font-weight="normal">after event</text>
<rect x="1302.0" y="69.3" width="454.5" height="294.5" fill="none" stroke="#111" stroke-width="1.25"/>
<line x1="1302.0" y1="363.8" x2="1302.0" y2="368.2" stroke="#111" stroke-width="1.25"/>
<line x1="1320.9" y1="363.8" x2="1320.9" y2="368.2" stroke="#111" stroke-width="1.25"/>
<line x1="1339.9" y1="363.8" x2="1339.9" y2="368.2" stroke="#111" stroke-width="1.25"/>
<line x1="1358.8" y1="363.8" x2="1358.8" y2="368.2" stroke="#111" stroke-width="1.25"/>
<line x1="1377.8" y1="363.8" x2="1377.8" y2="368.2" stroke="#111" stroke-width="1.25"/>
<line x1="1396.7" y1="363.8" x2="1396.7" y2="368.2" stroke="#111" stroke-width="1.25"/>
<line x1="1415.6" y1="363.8" x2="1415.6" y2="368.2" stroke="#111" stroke-width="1.25"/>
<line x1="1434.6" y1="363.8" x2="1434.6" y2="368.2" stroke="#111" stroke-width="1.25"/>
<line x1="1453.5" y1="363.8" x2="1453.5" y2="368.2" stroke="#111" stroke-width="1.25"/>
<line x1="1472.4" y1="363.8" x2="1472.4" y2="368.2" stroke="#111" stroke-width="1.25"/>
<line x1="1491.4" y1="363.8" x2="1491.4" y2="368.2" stroke="#111" stroke-width="1.25"/>
<line x1="1510.3" y1="363.8" x2="1510.3" y2="368.2" stroke="#111" stroke-width="1.25"/>
<line x1="1529.2" y1="363.8" x2="1529.2" y2="368.2" stroke="#111" stroke-width="1.25"/>
<line x1="1548.2" y1="363.8" x2="1548.2" y2="368.2" stroke="#111" stroke-width="1.25"/>
<line x1="1567.1" y1="363.8" x2="1567.1" y2="368.2" stroke="#111" stroke-width="1.25"/>
<line x1="1586.1" y1="363.8" x2="1586.1" y2="368.2" stroke="#111" stroke-width="1.25"/>
<line x1="1605.0" y1="363.8" x2="1605.0" y2="368.2" stroke="#111" stroke-width="1.25"/>
<line x1="1623.9" y1="363.8" x2="1623.9" y2="368.2" stroke="#111" stroke-width="1.25"/>
<line x1="1642.9" y1="363.8" x2="1642.9" y2="368.2" stroke="#111" stroke-width="1.25"/>
<line x1="1661.8" y1="363.8" x2="1661.8" y2="368.2" stroke="#111" stroke-width="1.25"/>
<line x1="1680.8" y1="363.8" x2="1680.8" y2="368.2" stroke="#111" stroke-width="1.25"/>
<line x1="1699.7" y1="363.8" x2="1699.7" y2="368.2" stroke="#111" stroke-width="1.25"/>
<line x1="1718.6" y1="363.8" x2="1718.6" y2="368.2" stroke="#111" stroke-width="1.25"/>
<line x1="1737.6" y1="363.8" x2="1737.6" y2="368.2" stroke="#111" stroke-width="1.25"/>
<line x1="1756.5" y1="363.8" x2="1756.5" y2="368.2" stroke="#111" stroke-width="1.25"/>
<line x1="1297.6" y1="343.2" x2="1302.0" y2="343.2" stroke="#111" stroke-width="1.25"/>
<text x="1292.7" y="350.7" font-size="20.3" text-anchor="end" fill="#000" font-weight="normal">1</text>
<line x1="1297.6" y1="313.4" x2="1302.0" y2="313.4" stroke="#111" stroke-width="1.25"/>
<text x="1292.7" y="320.9" font-size="20.3" text-anchor="end" fill="#000" font-weight="normal">2</text>
<line x1="1297.6" y1="283.6" x2="1302.0" y2="283.6" stroke="#111" stroke-width="1.25"/>
<text x="1292.7" y="291.1" font-size="20.3" text-anchor="end" fill="#000" font-weight="normal">3</text>
<line x1="1297.6" y1="253.8" x2="1302.0" y2="253.8" stroke="#111" stroke-width="1.25"/>
<text x="1292.7" y="261.3" font-size="20.3" text-anchor="end" fill="#000" font-weight="normal">4</text>
<line x1="1297.6" y1="224.0" x2="1302.0" y2="224.0" stroke="#111" stroke-width="1.25"/>
<text x="1292.7" y="231.5" font-size="20.3" text-anchor="end" fill="#000" font-weight="normal">5</text>
<line x1="1297.6" y1="194.2" x2="1302.0" y2="194.2" stroke="#111" stroke-width="1.25"/>
<text x="1292.7" y="201.7" font-size="20.3" text-anchor="end" fill="#000" font-weight="normal">6</text>
<line x1="1297.6" y1="164.4" x2="1302.0" y2="164.4" stroke="#111" stroke-width="1.25"/>
<text x="1292.7" y="171.9" font-size="20.3" text-anchor="end" fill="#000" font-weight="normal">7</text>
<line x1="1297.6" y1="134.6" x2="1302.0" y2="134.6" stroke="#111" stroke-width="1.25"/>
<text x="1292.7" y="142.1" font-size="20.3" text-anchor="end" fill="#000" font-weight="normal">8</text>
<line x1="1297.6" y1="104.8" x2="1302.0" y2="104.8" stroke="#111" stroke-width="1.25"/>
<text x="1292.7" y="112.3" font-size="20.3" text-anchor="end" fill="#000" font-weight="normal">9</text>
<line x1="1297.6" y1="75.0" x2="1302.0" y2="75.0" stroke="#111" stroke-width="1.25"/>
<text x="1292.7" y="82.5" font-size="20.3" text-anchor="end" fill="#000" font-weight="normal">10</text>
<text x="1529.2" y="61.7" font-size="25.2" text-anchor="middle" fill="#000" font-weight="normal">Absolute Humidity Anomaly (WEGN)</text>
<text x="1256.2" y="36.1" font-size="22.7" text-anchor="start" fill="#000" font-weight="bold">(c)</text>
<rect x="1761.2" y="345.09" width="22.6" height="19.01" fill="#663a07"/>
<rect x="1761.2" y="326.69" width="22.6" height="19.01" fill="#894f0a"/>
<rect x="1761.2" y="308.28" width="22.6" height="19.01" fill="#a96c1e"/>
<rect x="1761.2" y="289.88" width="22.6" height="19.01" fill="#c58e3d"/>
<rect x="1761.2" y="271.47" width="22.6" height="19.01" fill="#d9b76f"/>
<rect x="1761.2" y="253.06" width="22.6" height="19.01" fill="#e9d39d"/>
<rect x="1761.2" y="234.66" width="22.6" height="19.01" fill="#f6e9c7"/>
<rect x="1761.2" y="216.25" width="22.6" height="19.01" fill="#f5f1e6"/>
<rect x="1761.2" y="197.84" width="22.6" height="19.01" fill="#e6f1f0"/>
<rect x="1761.2" y="179.44" width="22.6" height="19.01" fill="#c9eae6"/>
<rect x="1761.2" y="161.03" width="22.6" height="19.01" fill="#9dd9d0"/>
<rect x="1761.2" y="142.62" width="22.6" height="19.01" fill="#70c1b6"/>
<rect x="1761.2" y="124.22" width="22.6" height="19.01" fill="#419f97"/>
<rect x="1761.2" y="105.81" width="22.6" height="19.01" fill="#1d8078"/>
<rect x="1761.2" y="87.41" width="22.6" height="19.01" fill="#016259"/>
<rect x="1761.2" y="69.00" width="22.6" height="19.01" fill="#00483d"/>
<rect x="1761.2" y="69.3" width="22.6" height="294.5" fill="none" stroke="#111" stroke-width="1.25"/>
<line x1="1783.8" y1="363.8" x2="1788.2" y2="363.8" stroke="#111" stroke-width="1.25"/>
<text x="1792.2" y="372.0" font-size="21.1" text-anchor="start" fill="#000" font-weight="normal">−2.0</text>
<line x1="1783.8" y1="327.0" x2="1788.2" y2="327.0" stroke="#111" stroke-width="1.25"/>
<text x="1792.2" y="335.2" font-size="21.1" text-anchor="start" fill="#000" font-weight="normal">−1.5</text>
<line x1="1783.8" y1="290.2" x2="1788.2" y2="290.2" stroke="#111" stroke-width="1.25"/>
<text x="1792.2" y="298.4" font-size="21.1" text-anchor="start" fill="#000" font-weight="normal">−1.0</text>
<line x1="1783.8" y1="253.4" x2="1788.2" y2="253.4" stroke="#111" stroke-width="1.25"/>
<text x="1792.2" y="261.6" font-size="21.1" text-anchor="start" fill="#000" font-weight="normal">−0.5</text>
<line x1="1783.8" y1="216.6" x2="1788.2" y2="216.6" stroke="#111" stroke-width="1.25"/>
<text x="1792.2" y="224.8" font-size="21.1" text-anchor="start" fill="#000" font-weight="normal">0.0</text>
<line x1="1783.8" y1="179.7" x2="1788.2" y2="179.7" stroke="#111" stroke-width="1.25"/>
<text x="1792.2" y="187.9" font-size="21.1" text-anchor="start" fill="#000" font-weight="normal">0.5</text>
<line x1="1783.8" y1="142.9" x2="1788.2" y2="142.9" stroke="#111" stroke-width="1.25"/>
<text x="1792.2" y="151.1" font-size="21.1" text-anchor="start" fill="#000" font-weight="normal">1.0</text>
<line x1="1783.8" y1="106.1" x2="1788.2" y2="106.1" stroke="#111" stroke-width="1.25"/>
<text x="1792.2" y="114.3" font-size="21.1" text-anchor="start" fill="#000" font-weight="normal">1.5</text>
<line x1="1783.8" y1="69.3" x2="1788.2" y2="69.3" stroke="#111" stroke-width="1.25"/>
<text x="1792.2" y="77.5" font-size="21.1" text-anchor="start" fill="#000" font-weight="normal">2.0</text>
<text x="1869.6" y="216.6" font-size="20.3" text-anchor="middle" transform="rotate(-90 1869.6 216.6)">ΔAH [g m<tspan font-size="14.2" dy="-7.2">−3</tspan><tspan dy="7.2">]</tspan></text>
</g>
<g id="panel-d">
<clipPath id="clip-d"><rect x="97.7" y="437.6" width="454.5" height="292.8"/></clipPath>
<g clip-path="url(#clip-d)" shape-rendering="geometricPrecision">
<rect x="97.7" y="437.6" width="454.5" height="294.5" fill="#fddcc9"/>
<polygon points="97.1,646.8 104.5,650.6 110.9,655.9 113.0,663.3 116.2,668.6 105.6,676.1 107.7,682.4 113.0,688.8 117.2,695.1 116.2,705.7 118.3,714.2 116.2,733.3 97.1,733.3" fill="#f9eee7" stroke="#f9eee7" stroke-width="0.6"/>
<polygon points="135.3,635.8 138.4,644.3 139.5,654.9 137.4,665.5 135.3,673.9 128.9,671.8 117.2,668.6 123.6,663.3 124.7,654.9 130.0,645.3" fill="#f9eee7" stroke="#f9eee7" stroke-width="0.6"/>
<polygon points="133.1,733.3 137.4,720.5 138.4,712.1 143.7,701.5 148.0,690.9 152.2,680.3 158.6,669.7 159.6,664.4 167.0,660.2 175.5,655.9 181.9,647.4 181.4,640.0 185.0,631.6 186.1,623.1 189.3,614.6 192.5,608.3 197.8,612.5 199.9,618.8 205.2,625.2 210.5,631.6 215.8,624.1 222.1,616.7 228.5,611.4 234.8,613.6 241.2,619.9 248.8,623.1 248.8,733.3" fill="#f8bb9e" stroke="#f8bb9e" stroke-width="0.6"/>
<polygon points="150.1,733.3 152.2,720.5 154.3,711.0 162.8,711.0 173.4,712.1 177.6,704.7 186.1,703.6 194.6,701.5 196.7,690.9 198.8,682.4 202.0,671.8 206.2,666.5 210.5,661.2 215.8,664.4 221.1,669.7 227.4,679.2 234.8,685.6 243.3,693.0 248.8,697.2 248.8,733.3" fill="#ee9677" stroke="#ee9677" stroke-width="0.6"/>
<polygon points="171.3,698.3 174.4,695.1 178.1,697.7 175.5,701.9 172.3,701.5" fill="#ee9677" stroke="#ee9677" stroke-width="0.6"/>
<polygon points="191.4,733.3 194.6,724.8 200.9,718.4 207.3,711.0 211.5,705.7 220.0,704.7 228.5,704.7 233.8,708.9 239.1,716.3 243.3,724.8 245.8,733.3" fill="#db6b55" stroke="#db6b55" stroke-width="0.6"/>
<polygon points="249.2,436.8 553.0,436.8 553.0,733.0 249.2,733.0" fill="#ecf2f5" stroke="#ecf2f5" stroke-width="0.6"/>
<polygon points="249.2,436.8 317.0,436.5 316.0,457.7 322.3,466.1 327.6,472.5 328.7,497.9 332.9,506.4 336.1,527.6 335.7,546.6 337.2,559.4 333.6,572.1 334.0,568.0 332.9,584.9 328.7,595.5 325.5,608.3 323.4,616.7 318.1,623.1 312.8,627.3 305.4,631.6 301.8,635.8 302.2,643.2 305.4,647.4 298.0,654.9 305.4,661.2 302.2,667.6 304.3,673.9 307.5,680.3 306.4,690.9 303.3,701.5 301.1,712.1 306.4,722.7 308.6,733.3 249.2,733.0" fill="#f9eee7" stroke="#f9eee7" stroke-width="0.6"/>
<polygon points="249.2,651.7 253.5,659.1 256.7,666.5 253.5,669.7 260.9,673.9 266.2,683.5 270.4,688.8 272.5,693.0 277.8,699.4 277.8,705.7 276.8,712.1 280.0,720.5 285.3,726.9 285.3,733.3 249.2,733.3" fill="#fddcc9" stroke="#fddcc9" stroke-width="0.6"/>
<polygon points="329.7,733.3 331.9,720.5 331.9,705.7 328.7,697.2 334.0,690.9 335.0,683.5 339.3,675.0 342.5,669.7 353.1,666.5 359.4,661.2 363.6,654.9 372.1,651.7 382.7,648.5 384.8,640.0 389.1,633.7 393.3,623.1 399.7,615.7 403.5,613.6 409.8,607.2 416.2,598.7 424.7,591.3 421.5,584.9 421.5,576.5 416.2,568.0 421.5,585.8 422.5,580.5 418.3,572.1 414.1,563.6 414.1,553.0 410.9,536.1 413.0,525.5 410.9,519.1 406.7,500.0 407.7,476.7 409.8,457.7 405.6,436.5 553.0,436.8 553.0,733.0" fill="#d4e6f1" stroke="#d4e6f1" stroke-width="0.6"/>
<polygon points="473.4,436.5 511.5,436.5 507.3,444.9 500.9,453.4 499.9,466.1 503.1,472.5 498.8,485.2 494.6,496.9 486.1,493.7 476.6,490.5 471.3,479.9 470.8,455.5" fill="#aed3e6" stroke="#aed3e6" stroke-width="0.6"/>
<polygon points="341.4,733.3 344.6,723.7 350.9,720.5 355.2,714.2 356.2,705.7 360.5,699.4 372.1,696.2 382.7,694.1 393.3,690.9 405.6,686.6 414.1,682.4 418.3,678.2 419.4,675.0 428.9,676.1 440.6,676.5 450.1,672.9 458.6,668.6 467.0,665.5 475.5,660.2 484.0,655.9 488.2,650.6 490.3,644.3 488.2,627.3 491.4,618.8 495.0,609.3 498.8,617.8 501.6,627.3 499.9,640.0 499.9,649.6 505.2,655.9 515.8,660.2 526.4,662.3 533.8,664.4 531.7,670.8 533.8,676.1 529.5,683.5 525.3,690.9 525.3,697.2 522.1,707.8 522.1,714.2 527.4,720.5 529.5,733.3" fill="#aed3e6" stroke="#aed3e6" stroke-width="0.6"/>
<polygon points="389.1,733.3 394.4,725.8 399.7,721.6 399.2,719.5 407.7,717.4 418.3,716.3 428.9,714.2 437.4,713.1 445.8,714.2 451.1,719.5 454.3,725.8 456.9,733.3" fill="#84bcd9" stroke="#84bcd9" stroke-width="0.6"/>
<polygon points="549.7,699.4 553.5,694.7 553.5,708.3 550.7,706.8" fill="#ecf2f5" stroke="#ecf2f5" stroke-width="0.6"/>
</g>
<line x1="249.2" y1="732.1" x2="249.2" y2="437.6" stroke="#3b5f5a" stroke-width="2.0" stroke-dasharray="6.85 2.83"/>
<text x="244.7" y="456.9" font-size="17.6" text-anchor="end" fill="#3b5f5a" font-weight="normal">before event</text>
<text x="253.2" y="456.9" font-size="17.6" text-anchor="start" fill="#3b5f5a" font-weight="normal">after event</text>
<rect x="97.7" y="437.6" width="454.5" height="294.5" fill="none" stroke="#111" stroke-width="1.25"/>
<line x1="97.7" y1="732.1" x2="97.7" y2="736.5" stroke="#111" stroke-width="1.25"/>
<line x1="116.6" y1="732.1" x2="116.6" y2="736.5" stroke="#111" stroke-width="1.25"/>
<line x1="135.6" y1="732.1" x2="135.6" y2="736.5" stroke="#111" stroke-width="1.25"/>
<line x1="154.5" y1="732.1" x2="154.5" y2="736.5" stroke="#111" stroke-width="1.25"/>
<line x1="173.4" y1="732.1" x2="173.4" y2="736.5" stroke="#111" stroke-width="1.25"/>
<line x1="192.4" y1="732.1" x2="192.4" y2="736.5" stroke="#111" stroke-width="1.25"/>
<line x1="211.3" y1="732.1" x2="211.3" y2="736.5" stroke="#111" stroke-width="1.25"/>
<line x1="230.3" y1="732.1" x2="230.3" y2="736.5" stroke="#111" stroke-width="1.25"/>
<line x1="249.2" y1="732.1" x2="249.2" y2="736.5" stroke="#111" stroke-width="1.25"/>
<line x1="268.1" y1="732.1" x2="268.1" y2="736.5" stroke="#111" stroke-width="1.25"/>
<line x1="287.1" y1="732.1" x2="287.1" y2="736.5" stroke="#111" stroke-width="1.25"/>
<line x1="306.0" y1="732.1" x2="306.0" y2="736.5" stroke="#111" stroke-width="1.25"/>
<line x1="324.9" y1="732.1" x2="324.9" y2="736.5" stroke="#111" stroke-width="1.25"/>
<line x1="343.9" y1="732.1" x2="343.9" y2="736.5" stroke="#111" stroke-width="1.25"/>
<line x1="362.8" y1="732.1" x2="362.8" y2="736.5" stroke="#111" stroke-width="1.25"/>
<line x1="381.8" y1="732.1" x2="381.8" y2="736.5" stroke="#111" stroke-width="1.25"/>
<line x1="400.7" y1="732.1" x2="400.7" y2="736.5" stroke="#111" stroke-width="1.25"/>
<line x1="419.6" y1="732.1" x2="419.6" y2="736.5" stroke="#111" stroke-width="1.25"/>
<line x1="438.6" y1="732.1" x2="438.6" y2="736.5" stroke="#111" stroke-width="1.25"/>
<line x1="457.5" y1="732.1" x2="457.5" y2="736.5" stroke="#111" stroke-width="1.25"/>
<line x1="476.4" y1="732.1" x2="476.4" y2="736.5" stroke="#111" stroke-width="1.25"/>
<line x1="495.4" y1="732.1" x2="495.4" y2="736.5" stroke="#111" stroke-width="1.25"/>
<line x1="514.3" y1="732.1" x2="514.3" y2="736.5" stroke="#111" stroke-width="1.25"/>
<line x1="533.3" y1="732.1" x2="533.3" y2="736.5" stroke="#111" stroke-width="1.25"/>
<line x1="552.2" y1="732.1" x2="552.2" y2="736.5" stroke="#111" stroke-width="1.25"/>
<text x="97.7" y="756.1" font-size="20.3" text-anchor="middle" fill="#000" font-weight="normal">-8</text>
<text x="173.4" y="756.1" font-size="20.3" text-anchor="middle" fill="#000" font-weight="normal">-4</text>
<text x="249.2" y="756.1" font-size="20.3" text-anchor="middle" fill="#000" font-weight="normal">t</text>
<text x="324.9" y="756.1" font-size="20.3" text-anchor="middle" fill="#000" font-weight="normal">+4</text>
<text x="400.7" y="756.1" font-size="20.3" text-anchor="middle" fill="#000" font-weight="normal">+8</text>
<text x="476.4" y="756.1" font-size="20.3" text-anchor="middle" fill="#000" font-weight="normal">+12</text>
<text x="552.2" y="756.1" font-size="20.3" text-anchor="middle" fill="#000" font-weight="normal">+16</text>
<text x="325.0" y="780.4" font-size="20.3" text-anchor="middle" fill="#000" font-weight="normal">Time [h]</text>
<line x1="93.3" y1="700.9" x2="97.7" y2="700.9" stroke="#111" stroke-width="1.25"/>
<text x="88.4" y="708.4" font-size="20.3" text-anchor="end" fill="#000" font-weight="normal">0.50</text>
<line x1="93.3" y1="657.0" x2="97.7" y2="657.0" stroke="#111" stroke-width="1.25"/>
<text x="88.4" y="664.5" font-size="20.3" text-anchor="end" fill="#000" font-weight="normal">0.75</text>
<line x1="93.3" y1="613.1" x2="97.7" y2="613.1" stroke="#111" stroke-width="1.25"/>
<text x="88.4" y="620.6" font-size="20.3" text-anchor="end" fill="#000" font-weight="normal">1.00</text>
<line x1="93.3" y1="569.2" x2="97.7" y2="569.2" stroke="#111" stroke-width="1.25"/>
<text x="88.4" y="576.7" font-size="20.3" text-anchor="end" fill="#000" font-weight="normal">1.25</text>
<line x1="93.3" y1="525.4" x2="97.7" y2="525.4" stroke="#111" stroke-width="1.25"/>
<text x="88.4" y="532.9" font-size="20.3" text-anchor="end" fill="#000" font-weight="normal">1.50</text>
<line x1="93.3" y1="481.5" x2="97.7" y2="481.5" stroke="#111" stroke-width="1.25"/>
<text x="88.4" y="489.0" font-size="20.3" text-anchor="end" fill="#000" font-weight="normal">1.75</text>
<line x1="93.3" y1="437.6" x2="97.7" y2="437.6" stroke="#111" stroke-width="1.25"/>
<text x="88.4" y="445.1" font-size="20.3" text-anchor="end" fill="#000" font-weight="normal">2.00</text>
<text x="34.9" y="584.9" font-size="20.3" text-anchor="middle" fill="#000" font-weight="normal" transform="rotate(-90 34.9 584.9)">Altitude [km]</text>
<text x="325.0" y="430.0" font-size="25.2" text-anchor="middle" fill="#000" font-weight="normal">Temperature Anomaly (ERA5)</text>
<text x="51.9" y="404.4" font-size="22.7" text-anchor="start" fill="#000" font-weight="bold">(d)</text>
<rect x="556.9" y="713.39" width="22.6" height="19.01" fill="#0e4179"/>
<rect x="556.9" y="694.99" width="22.6" height="19.01" fill="#1f63a8"/>
<rect x="556.9" y="676.58" width="22.6" height="19.01" fill="#3480b9"/>
<rect x="556.9" y="658.18" width="22.6" height="19.01" fill="#529dc8"/>
<rect x="556.9" y="639.77" width="22.6" height="19.01" fill="#84bcd9"/>
<rect x="556.9" y="621.36" width="22.6" height="19.01" fill="#aed3e6"/>
<rect x="556.9" y="602.96" width="22.6" height="19.01" fill="#d4e6f1"/>
<rect x="556.9" y="584.55" width="22.6" height="19.01" fill="#ecf2f5"/>
<rect x="556.9" y="566.14" width="22.6" height="19.01" fill="#f9eee7"/>
<rect x="556.9" y="547.74" width="22.6" height="19.01" fill="#fddcc9"/>
<rect x="556.9" y="529.33" width="22.6" height="19.01" fill="#f8bb9e"/>
<rect x="556.9" y="510.93" width="22.6" height="19.01" fill="#ee9677"/>
<rect x="556.9" y="492.52" width="22.6" height="19.01" fill="#db6b55"/>
<rect x="556.9" y="474.11" width="22.6" height="19.01" fill="#c53e3d"/>
<rect x="556.9" y="455.71" width="22.6" height="19.01" fill="#ab162a"/>
<rect x="556.9" y="437.30" width="22.6" height="19.01" fill="#7c0722"/>
<rect x="556.9" y="437.6" width="22.6" height="294.5" fill="none" stroke="#111" stroke-width="1.25"/>
<line x1="579.5" y1="732.1" x2="583.9" y2="732.1" stroke="#111" stroke-width="1.25"/>
<text x="587.9" y="740.3" font-size="21.1" text-anchor="start" fill="#000" font-weight="normal">−4</text>
<line x1="579.5" y1="695.3" x2="583.9" y2="695.3" stroke="#111" stroke-width="1.25"/>
<text x="587.9" y="703.5" font-size="21.1" text-anchor="start" fill="#000" font-weight="normal">−3</text>
<line x1="579.5" y1="658.5" x2="583.9" y2="658.5" stroke="#111" stroke-width="1.25"/>
<text x="587.9" y="666.7" font-size="21.1" text-anchor="start" fill="#000" font-weight="normal">−2</text>
<line x1="579.5" y1="621.7" x2="583.9" y2="621.7" stroke="#111" stroke-width="1.25"/>
<text x="587.9" y="629.9" font-size="21.1" text-anchor="start" fill="#000" font-weight="normal">−1</text>
<line x1="579.5" y1="584.9" x2="583.9" y2="584.9" stroke="#111" stroke-width="1.25"/>
<text x="587.9" y="593.1" font-size="21.1" text-anchor="start" fill="#000" font-weight="normal">0</text>
<line x1="579.5" y1="548.0" x2="583.9" y2="548.0" stroke="#111" stroke-width="1.25"/>
<text x="587.9" y="556.2" font-size="21.1" text-anchor="start" fill="#000" font-weight="normal">1</text>
<line x1="579.5" y1="511.2" x2="583.9" y2="511.2" stroke="#111" stroke-width="1.25"/>
<text x="587.9" y="519.4" font-size="21.1" text-anchor="start" fill="#000" font-weight="normal">2</text>
<line x1="579.5" y1="474.4" x2="583.9" y2="474.4" stroke="#111" stroke-width="1.25"/>
<text x="587.9" y="482.6" font-size="21.1" text-anchor="start" fill="#000" font-weight="normal">3</text>
<line x1="579.5" y1="437.6" x2="583.9" y2="437.6" stroke="#111" stroke-width="1.25"/>
<text x="587.9" y="445.8" font-size="21.1" text-anchor="start" fill="#000" font-weight="normal">4</text>
<text x="640.0" y="584.9" font-size="20.3" text-anchor="middle" fill="#000" font-weight="normal" transform="rotate(-90 640.0 584.9)">ΔT [K]</text>
</g>
<g id="panel-e">
<clipPath id="clip-e"><rect x="699.9" y="437.6" width="454.5" height="294.5"/></clipPath>
<g clip-path="url(#clip-e)" shape-rendering="geometricPrecision">
<rect x="699.9" y="437.6" width="454.5" height="294.5" fill="#225da8"/>
<polygon points="697.0,478.4 700.2,478.8 707.6,482.0 718.2,485.2 728.8,488.4 739.4,490.5 750.0,492.6 756.3,494.7 764.8,492.6 775.4,489.4 786.0,487.3 796.6,485.2 807.2,482.0 813.5,479.9 817.8,484.1 824.1,489.4 830.5,495.8 836.8,502.2 838.9,508.5 843.2,517.0 847.4,521.2 851.2,522.3 851.2,606.1 847.4,609.3 841.1,612.5 828.4,614.6 817.8,617.8 807.2,621.0 800.8,625.2 794.5,628.4 783.9,629.0 773.3,628.4 762.7,625.2 754.2,622.0 757.4,618.8 747.8,617.8 735.1,616.3 722.4,614.6 709.7,613.6 702.3,612.5 709.7,608.3 721.4,604.4 709.7,600.8 700.2,597.7 697.0,597.2" fill="#1e86bb" stroke="#1e86bb" stroke-width="0.6"/>
<polygon points="851.7,599.8 851.7,594.5 858.7,591.3 855.5,587.1 861.8,582.8 869.2,579.7 863.9,574.4 861.8,568.0 862.9,567.8 868.2,562.5 874.5,555.1 873.5,533.9 876.7,523.3 880.9,514.9 886.2,509.6 889.4,502.2 892.6,507.4 896.8,510.6 906.3,510.6 912.7,507.4 921.2,502.2 929.6,497.9 933.9,491.6 938.1,484.1 946.6,477.8 957.2,481.0 967.8,485.2 974.1,490.5 984.7,494.7 995.3,490.5 1003.4,487.3 1013.9,484.1 1028.8,481.0 1041.5,482.0 1044.7,473.6 1047.8,467.2 1041.5,456.6 1028.8,451.3 1021.4,446.6 1012.9,449.2 1003.4,452.4 997.0,452.4 999.5,449.2 991.1,444.9 984.7,441.8 982.6,436.5 1158.0,436.8 1158.0,631.6 1149.5,631.1 1138.9,630.5 1128.4,628.4 1119.9,624.1 1113.5,616.7 1105.1,612.5 1094.5,610.4 1081.7,611.0 1069.0,610.4 1056.3,608.3 1043.6,605.1 1040.4,601.9 1037.3,604.0 1024.5,607.2 1011.8,609.3 1004.4,613.6 997.0,612.5 1001.7,612.5 993.2,609.3 982.6,607.2 974.1,608.3 964.6,611.4 957.2,609.3 948.7,607.2 938.1,607.2 927.5,607.8 934.9,609.3 929.6,611.4 919.0,613.6 908.4,614.6 900.0,613.6 889.4,609.3 878.8,604.0 868.2,599.4 859.7,598.7" fill="#1e86bb" stroke="#1e86bb" stroke-width="0.6"/>
<polygon points="940.2,447.1 946.6,441.8 952.9,444.9 956.1,451.3 951.9,457.7 945.5,463.0 940.2,457.7" fill="#1e86bb" stroke="#1e86bb" stroke-width="0.6"/>
<polygon points="697.0,525.9 700.2,525.5 705.5,522.3 710.8,519.1 709.7,514.9 718.2,511.7 735.1,509.6 745.7,512.7 756.3,514.9 769.0,514.9 779.6,513.8 790.2,515.9 798.7,518.0 807.2,521.2 815.6,527.6 824.1,533.9 832.6,542.4 841.1,550.9 836.8,557.2 830.5,563.6 832.6,569.9 836.8,574.2 832.6,580.5 824.1,584.8 815.6,586.9 807.2,583.7 798.7,579.5 790.2,576.3 779.6,574.2 769.0,573.1 758.4,572.1 750.0,575.2 758.4,579.5 756.3,581.6 739.4,581.6 735.1,578.4 730.9,574.2 718.2,574.2 707.6,574.2 700.2,573.1 697.0,573.1" fill="#33a7c2" stroke="#33a7c2" stroke-width="0.6"/>
<polygon points="904.2,526.5 908.4,521.2 916.9,520.2 927.5,517.0 936.0,513.8 942.3,510.6 943.4,504.3 948.7,502.2 959.3,505.3 966.7,507.4 967.8,513.8 974.1,518.0 984.7,522.3 995.3,523.3 1007.6,523.3 1018.2,521.2 1022.4,514.9 1028.8,512.7 1039.4,510.6 1052.1,508.5 1054.2,500.0 1058.4,493.7 1069.0,488.4 1077.5,484.1 1086.0,487.3 1096.6,490.5 1095.5,496.2 1113.5,496.2 1102.9,491.1 1115.6,487.3 1124.1,482.0 1134.7,476.7 1145.3,479.9 1158.0,478.8 1158.0,610.4 1145.3,611.4 1132.6,607.2 1119.9,599.8 1109.3,593.4 1098.7,590.2 1086.0,587.1 1073.3,582.8 1064.8,577.5 1058.4,572.2 1045.7,574.4 1038.3,575.4 1035.1,568.0 1038.3,568.9 1028.8,566.8 1020.3,564.7 1007.6,568.9 1011.8,576.3 1005.5,581.6 997.0,582.7 995.3,577.4 984.7,576.3 974.1,575.2 964.6,574.2 952.9,578.4 940.2,582.7 927.5,585.8 921.2,581.6 916.9,576.3 920.1,572.1 918.0,565.7 916.9,557.2 920.1,546.6 916.9,540.3 910.6,536.1 906.3,531.8" fill="#33a7c2" stroke="#33a7c2" stroke-width="0.6"/>
<polygon points="982.6,532.9 985.8,531.8 990.0,538.2 988.9,544.5 982.6,544.1" fill="#1e86bb" stroke="#1e86bb" stroke-width="0.6"/>
<polygon points="1066.9,532.9 1075.4,528.6 1086.0,525.5 1098.7,523.3 1109.3,524.4 1117.8,526.5 1126.2,521.2 1134.7,519.1 1145.3,521.2 1158.0,524.4 1158.0,598.1 1149.5,595.5 1141.1,591.3 1132.6,584.9 1124.1,576.5 1115.6,571.2 1105.1,568.0 1115.6,571.0 1105.1,566.8 1096.6,561.5 1102.9,556.2 1094.5,551.9 1104.0,544.5 1096.6,541.3 1088.1,543.5 1078.6,544.5 1071.2,539.2" fill="#59bfc0" stroke="#59bfc0" stroke-width="0.6"/>
<polygon points="724.5,436.5 718.2,441.8 717.1,449.2 713.9,454.5 719.2,459.8 724.5,460.8 717.1,466.1 722.4,469.3 739.4,472.5 756.3,475.7 762.7,471.4 766.9,466.1 764.8,461.9 760.6,457.7 761.6,451.3 758.4,444.9 753.1,440.7 755.3,436.5" fill="#243c98" stroke="#243c98" stroke-width="0.6"/>
<polygon points="823.1,436.5 824.1,447.7 826.0,459.6 831.1,468.0 836.8,475.0 838.5,481.0 843.2,485.2 851.2,489.9 851.7,510.6 861.8,500.0 870.3,493.7 872.4,485.2 878.8,474.6 883.0,466.1 884.1,457.7 877.7,447.1 875.6,436.5" fill="#243c98" stroke="#243c98" stroke-width="0.6"/>
<polygon points="897.8,436.5 919.0,436.5 920.1,443.9 921.2,457.7 927.5,467.2 919.0,475.7 908.4,486.3 902.1,477.8 897.8,466.1 896.8,453.4" fill="#243c98" stroke="#243c98" stroke-width="0.6"/>
<polygon points="848.5,466.1 851.2,464.0 851.2,481.0 848.5,476.7" fill="#13266f" stroke="#13266f" stroke-width="0.6"/>
<polygon points="851.2,463.0 857.6,465.1 862.9,468.3 859.7,473.6 855.5,477.8 851.2,481.0" fill="#13266f" stroke="#13266f" stroke-width="0.6"/>
<polygon points="845.3,652.7 851.2,649.6 851.2,661.2 847.4,659.1" fill="#243c98" stroke="#243c98" stroke-width="0.6"/>
<polygon points="832.6,676.1 838.9,671.8 851.2,666.5 851.7,624.1 859.7,626.3 866.1,629.4 865.0,636.9 874.5,641.1 870.3,645.3 875.6,649.6 865.0,652.7 868.2,658.0 859.7,662.3 851.7,666.5 851.2,676.1 843.2,675.6" fill="#243c98" stroke="#243c98" stroke-width="0.6"/>
<polygon points="1009.7,646.4 1020.3,642.2 1028.8,642.6 1033.0,645.3 1028.8,651.7 1022.4,658.0 1013.9,653.8" fill="#243c98" stroke="#243c98" stroke-width="0.6"/>
<polygon points="1036.2,636.9 1040.4,635.4 1044.7,637.5 1040.4,639.6" fill="#243c98" stroke="#243c98" stroke-width="0.6"/>
<polygon points="699.1,720.5 707.6,719.5 718.2,717.4 719.2,720.5 709.7,723.7 703.4,726.9 699.1,726.9" fill="#1e86bb" stroke="#1e86bb" stroke-width="0.6"/>
<polygon points="743.6,726.9 752.1,724.8 781.7,725.2 807.2,724.4 832.6,725.2 836.8,726.9 824.1,729.0 781.7,730.1 756.3,730.1" fill="#1e86bb" stroke="#1e86bb" stroke-width="0.6"/>
<polygon points="925.0,730.3 1062.0,730.6 1062.0,733.0 925.0,733.0" fill="#243c98" stroke="#243c98" stroke-width="0.6"/>
</g>
<line x1="851.4" y1="732.1" x2="851.4" y2="437.6" stroke="#ffffff" stroke-width="2.0" stroke-dasharray="6.85 2.83"/>
<text x="846.9" y="456.9" font-size="17.6" text-anchor="end" fill="#ffffff" font-weight="normal">before event</text>
<text x="855.4" y="456.9" font-size="17.6" text-anchor="start" fill="#ffffff" font-weight="normal">after event</text>
<rect x="699.9" y="437.6" width="454.5" height="294.5" fill="none" stroke="#111" stroke-width="1.25"/>
<line x1="699.9" y1="732.1" x2="699.9" y2="736.5" stroke="#111" stroke-width="1.25"/>
<line x1="718.8" y1="732.1" x2="718.8" y2="736.5" stroke="#111" stroke-width="1.25"/>
<line x1="737.8" y1="732.1" x2="737.8" y2="736.5" stroke="#111" stroke-width="1.25"/>
<line x1="756.7" y1="732.1" x2="756.7" y2="736.5" stroke="#111" stroke-width="1.25"/>
<line x1="775.6" y1="732.1" x2="775.6" y2="736.5" stroke="#111" stroke-width="1.25"/>
<line x1="794.6" y1="732.1" x2="794.6" y2="736.5" stroke="#111" stroke-width="1.25"/>
<line x1="813.5" y1="732.1" x2="813.5" y2="736.5" stroke="#111" stroke-width="1.25"/>
<line x1="832.5" y1="732.1" x2="832.5" y2="736.5" stroke="#111" stroke-width="1.25"/>
<line x1="851.4" y1="732.1" x2="851.4" y2="736.5" stroke="#111" stroke-width="1.25"/>
<line x1="870.3" y1="732.1" x2="870.3" y2="736.5" stroke="#111" stroke-width="1.25"/>
<line x1="889.3" y1="732.1" x2="889.3" y2="736.5" stroke="#111" stroke-width="1.25"/>
<line x1="908.2" y1="732.1" x2="908.2" y2="736.5" stroke="#111" stroke-width="1.25"/>
<line x1="927.1" y1="732.1" x2="927.1" y2="736.5" stroke="#111" stroke-width="1.25"/>
<line x1="946.1" y1="732.1" x2="946.1" y2="736.5" stroke="#111" stroke-width="1.25"/>
<line x1="965.0" y1="732.1" x2="965.0" y2="736.5" stroke="#111" stroke-width="1.25"/>
<line x1="984.0" y1="732.1" x2="984.0" y2="736.5" stroke="#111" stroke-width="1.25"/>
<line x1="1002.9" y1="732.1" x2="1002.9" y2="736.5" stroke="#111" stroke-width="1.25"/>
<line x1="1021.8" y1="732.1" x2="1021.8" y2="736.5" stroke="#111" stroke-width="1.25"/>
<line x1="1040.8" y1="732.1" x2="1040.8" y2="736.5" stroke="#111" stroke-width="1.25"/>
<line x1="1059.7" y1="732.1" x2="1059.7" y2="736.5" stroke="#111" stroke-width="1.25"/>
<line x1="1078.7" y1="732.1" x2="1078.7" y2="736.5" stroke="#111" stroke-width="1.25"/>
<line x1="1097.6" y1="732.1" x2="1097.6" y2="736.5" stroke="#111" stroke-width="1.25"/>
<line x1="1116.5" y1="732.1" x2="1116.5" y2="736.5" stroke="#111" stroke-width="1.25"/>
<line x1="1135.5" y1="732.1" x2="1135.5" y2="736.5" stroke="#111" stroke-width="1.25"/>
<line x1="1154.4" y1="732.1" x2="1154.4" y2="736.5" stroke="#111" stroke-width="1.25"/>
<text x="699.9" y="756.1" font-size="20.3" text-anchor="middle" fill="#000" font-weight="normal">-8</text>
<text x="775.6" y="756.1" font-size="20.3" text-anchor="middle" fill="#000" font-weight="normal">-4</text>
<text x="851.4" y="756.1" font-size="20.3" text-anchor="middle" fill="#000" font-weight="normal">t</text>
<text x="927.1" y="756.1" font-size="20.3" text-anchor="middle" fill="#000" font-weight="normal">+4</text>
<text x="1002.9" y="756.1" font-size="20.3" text-anchor="middle" fill="#000" font-weight="normal">+8</text>
<text x="1078.7" y="756.1" font-size="20.3" text-anchor="middle" fill="#000" font-weight="normal">+12</text>
<text x="1154.4" y="756.1" font-size="20.3" text-anchor="middle" fill="#000" font-weight="normal">+16</text>
<text x="927.2" y="780.4" font-size="20.3" text-anchor="middle" fill="#000" font-weight="normal">Time [h]</text>
<line x1="695.5" y1="711.5" x2="699.9" y2="711.5" stroke="#111" stroke-width="1.25"/>
<text x="690.6" y="719.0" font-size="20.3" text-anchor="end" fill="#000" font-weight="normal">1</text>
<line x1="695.5" y1="681.7" x2="699.9" y2="681.7" stroke="#111" stroke-width="1.25"/>
<text x="690.6" y="689.2" font-size="20.3" text-anchor="end" fill="#000" font-weight="normal">2</text>
<line x1="695.5" y1="651.9" x2="699.9" y2="651.9" stroke="#111" stroke-width="1.25"/>
<text x="690.6" y="659.4" font-size="20.3" text-anchor="end" fill="#000" font-weight="normal">3</text>
<line x1="695.5" y1="622.1" x2="699.9" y2="622.1" stroke="#111" stroke-width="1.25"/>
<text x="690.6" y="629.6" font-size="20.3" text-anchor="end" fill="#000" font-weight="normal">4</text>
<line x1="695.5" y1="592.3" x2="699.9" y2="592.3" stroke="#111" stroke-width="1.25"/>
<text x="690.6" y="599.8" font-size="20.3" text-anchor="end" fill="#000" font-weight="normal">5</text>
<line x1="695.5" y1="562.5" x2="699.9" y2="562.5" stroke="#111" stroke-width="1.25"/>
<text x="690.6" y="570.0" font-size="20.3" text-anchor="end" fill="#000" font-weight="normal">6</text>
<line x1="695.5" y1="532.7" x2="699.9" y2="532.7" stroke="#111" stroke-width="1.25"/>
<text x="690.6" y="540.2" font-size="20.3" text-anchor="end" fill="#000" font-weight="normal">7</text>
<line x1="695.5" y1="502.9" x2="699.9" y2="502.9" stroke="#111" stroke-width="1.25"/>
<text x="690.6" y="510.4" font-size="20.3" text-anchor="end" fill="#000" font-weight="normal">8</text>
<line x1="695.5" y1="473.1" x2="699.9" y2="473.1" stroke="#111" stroke-width="1.25"/>
<text x="690.6" y="480.6" font-size="20.3" text-anchor="end" fill="#000" font-weight="normal">9</text>
<line x1="695.5" y1="443.3" x2="699.9" y2="443.3" stroke="#111" stroke-width="1.25"/>
<text x="690.6" y="450.8" font-size="20.3" text-anchor="end" fill="#000" font-weight="normal">10</text>
<text x="927.2" y="430.0" font-size="25.2" text-anchor="middle" fill="#000" font-weight="normal">Relative Humidity (ERA5)</text>
<text x="654.1" y="404.4" font-size="22.7" text-anchor="start" fill="#000" font-weight="bold">(e)</text>
<rect x="1159.1" y="702.35" width="22.6" height="30.05" fill="#f8fcca"/>
<rect x="1159.1" y="672.90" width="22.6" height="30.05" fill="#e6f5b2"/>
<rect x="1159.1" y="643.45" width="22.6" height="30.05" fill="#c6e9b4"/>
<rect x="1159.1" y="614.00" width="22.6" height="30.05" fill="#8ed3ba"/>
<rect x="1159.1" y="584.55" width="22.6" height="30.05" fill="#59bfc0"/>
<rect x="1159.1" y="555.10" width="22.6" height="30.05" fill="#33a7c2"/>
<rect x="1159.1" y="525.65" width="22.6" height="30.05" fill="#1e86bb"/>
<rect x="1159.1" y="496.20" width="22.6" height="30.05" fill="#225da8"/>
<rect x="1159.1" y="466.75" width="22.6" height="30.05" fill="#243c98"/>
<rect x="1159.1" y="437.30" width="22.6" height="30.05" fill="#13266f"/>
<rect x="1159.1" y="437.6" width="22.6" height="294.5" fill="none" stroke="#111" stroke-width="1.25"/>
<line x1="1181.7" y1="732.1" x2="1186.1" y2="732.1" stroke="#111" stroke-width="1.25"/>
<text x="1190.1" y="740.3" font-size="21.1" text-anchor="start" fill="#000" font-weight="normal">0</text>
<line x1="1181.7" y1="673.2" x2="1186.1" y2="673.2" stroke="#111" stroke-width="1.25"/>
<text x="1190.1" y="681.4" font-size="21.1" text-anchor="start" fill="#000" font-weight="normal">20</text>
<line x1="1181.7" y1="614.3" x2="1186.1" y2="614.3" stroke="#111" stroke-width="1.25"/>
<text x="1190.1" y="622.5" font-size="21.1" text-anchor="start" fill="#000" font-weight="normal">40</text>
<line x1="1181.7" y1="555.4" x2="1186.1" y2="555.4" stroke="#111" stroke-width="1.25"/>
<text x="1190.1" y="563.6" font-size="21.1" text-anchor="start" fill="#000" font-weight="normal">60</text>
<line x1="1181.7" y1="496.5" x2="1186.1" y2="496.5" stroke="#111" stroke-width="1.25"/>
<text x="1190.1" y="504.7" font-size="21.1" text-anchor="start" fill="#000" font-weight="normal">80</text>
<line x1="1181.7" y1="437.6" x2="1186.1" y2="437.6" stroke="#111" stroke-width="1.25"/>
<text x="1190.1" y="445.8" font-size="21.1" text-anchor="start" fill="#000" font-weight="normal">100</text>
<text x="1252.3" y="584.9" font-size="20.3" text-anchor="middle" fill="#000" font-weight="normal" transform="rotate(-90 1252.3 584.9)">RH [%]</text>
</g>
<g id="panel-f">
<clipPath id="clip-f"><rect x="1302.0" y="437.6" width="454.5" height="294.5"/></clipPath>
<g clip-path="url(#clip-f)" shape-rendering="geometricPrecision">
<rect x="1302.0" y="437.6" width="454.5" height="294.5" fill="#e6f1f0"/>
<polygon points="1299.0,500.7 1302.2,501.1 1311.7,502.2 1324.4,505.3 1341.4,509.6 1358.3,511.7 1368.9,506.4 1373.2,502.2 1366.8,495.8 1356.2,490.5 1362.6,483.1 1371.0,477.8 1379.5,475.7 1392.2,478.8 1383.7,485.2 1394.3,484.1 1404.9,482.0 1414.5,479.9 1417.6,489.4 1420.8,502.2 1419.8,517.0 1424.0,529.7 1430.4,538.2 1434.6,546.6 1436.7,565.7 1436.7,568.0 1432.5,582.8 1426.1,595.5 1420.8,600.8 1429.3,608.3 1426.1,616.7 1414.5,621.0 1417.6,631.6 1420.8,640.0 1416.6,646.4 1413.4,651.7 1398.6,655.9 1383.7,655.9 1372.1,652.7 1368.9,647.4 1379.5,643.2 1388.0,637.9 1377.4,631.6 1378.4,625.2 1366.8,619.9 1377.4,613.6 1366.8,607.2 1377.4,598.7 1366.8,595.5 1372.1,593.4 1368.9,587.1 1376.3,574.4 1371.0,568.0 1372.1,565.7 1360.4,559.4 1349.8,555.1 1337.1,551.9 1325.5,549.8 1337.1,545.6 1349.8,542.4 1362.6,538.2 1359.4,532.9 1349.8,536.1 1341.4,539.2 1330.8,542.4 1320.2,543.5 1309.6,545.6 1302.2,546.6 1299.0,546.6" fill="#f5f1e6" stroke="#f5f1e6" stroke-width="0.6"/>
<polygon points="1322.3,515.9 1343.5,515.3 1350.9,522.3 1348.8,527.6 1340.3,530.1 1330.8,526.5" fill="#e6f1f0" stroke="#e6f1f0" stroke-width="0.6"/>
<polygon points="1391.2,515.9 1396.5,513.4 1402.8,515.9 1401.8,521.2 1395.4,522.3" fill="#e6f1f0" stroke="#e6f1f0" stroke-width="0.6"/>
<polygon points="1378.4,574.2 1385.9,567.8 1396.5,561.5 1402.8,567.8 1406.0,579.5 1398.6,584.8 1388.0,583.7 1380.6,579.5" fill="#e6f1f0" stroke="#e6f1f0" stroke-width="0.6"/>
<polygon points="1381.6,628.4 1394.3,626.3 1409.2,628.0 1396.5,629.9" fill="#e6f1f0" stroke="#e6f1f0" stroke-width="0.6"/>
<polygon points="1390.1,457.7 1396.5,447.1 1413.4,444.9 1419.8,449.2 1416.6,459.8 1409.2,465.1 1396.5,467.2" fill="#f5f1e6" stroke="#f5f1e6" stroke-width="0.6"/>
<polygon points="1312.8,557.2 1319.1,553.0 1323.4,557.2 1321.2,562.5 1314.9,562.5" fill="#f5f1e6" stroke="#f5f1e6" stroke-width="0.6"/>
<polygon points="1313.8,580.5 1320.2,578.4 1327.6,580.5 1322.3,585.8" fill="#f5f1e6" stroke="#f5f1e6" stroke-width="0.6"/>
<polygon points="1315.9,661.2 1320.2,658.0 1332.9,658.0 1326.5,662.3 1320.2,665.5 1315.9,664.4" fill="#f5f1e6" stroke="#f5f1e6" stroke-width="0.6"/>
<polygon points="1337.1,648.5 1341.4,647.7 1340.5,651.1" fill="#f5f1e6" stroke="#f5f1e6" stroke-width="0.6"/>
<polygon points="1301.1,597.7 1303.7,599.8 1303.7,605.1 1301.1,606.1" fill="#f6e9c7" stroke="#f6e9c7" stroke-width="0.6"/>
<polygon points="1542.2,436.5 1545.4,457.7 1548.6,463.0 1545.4,468.3 1547.5,473.6 1540.1,479.9 1549.6,485.2 1557.1,491.6 1565.5,489.4 1565.9,490.0 1561.4,496.7 1548.7,502.7 1545.7,509.5 1562.9,514.7 1565.2,516.2 1563.7,519.9 1567.4,522.9 1571.9,520.7 1569.7,515.4 1585.4,509.5 1591.3,513.9 1589.9,521.4 1595.8,531.9 1610.8,537.9 1612.3,546.9 1622.8,552.1 1632.5,563.3 1631.8,569.3 1633.2,576.8 1631.8,585.8 1633.2,593.2 1619.8,597.7 1604.8,605.2 1597.3,610.0 1602.6,615.7 1609.0,618.8 1607.5,617.8 1612.8,623.1 1609.6,626.3 1620.2,630.5 1631.8,634.7 1620.2,641.1 1609.6,646.4 1599.0,651.7 1601.5,651.7 1586.7,655.9 1576.1,661.2 1576.1,666.5 1559.2,669.7 1544.3,672.9 1529.5,676.1 1512.6,679.2 1498.8,683.5 1506.2,689.8 1502.0,695.1 1508.3,705.7 1518.9,712.1 1533.7,716.3 1550.7,719.9 1567.6,725.2 1586.7,728.2 1609.0,729.7 1758.0,730.0 1758.0,436.8" fill="#f5f1e6" stroke="#f5f1e6" stroke-width="0.6"/>
<polygon points="1552.8,458.7 1563.4,454.5 1571.9,455.5 1576.1,466.1 1563.4,468.3 1554.9,466.1" fill="#e6f1f0" stroke="#e6f1f0" stroke-width="0.6"/>
<polygon points="1554.9,481.4 1567.6,477.8 1584.6,478.4 1587.8,474.2 1582.5,471.6 1589.9,473.6 1585.7,479.9 1563.4,482.7" fill="#e6f1f0" stroke="#e6f1f0" stroke-width="0.6"/>
<polygon points="1539.7,538.6 1549.5,537.1 1567.4,527.7 1579.4,533.4 1594.3,538.6 1595.8,545.4 1600.3,550.6 1599.6,557.3 1594.3,563.3 1600.3,569.3 1604.8,571.6 1612.3,579.8 1610.8,585.8 1604.8,591.8 1585.4,591.8 1577.1,586.5 1582.4,579.8 1584.6,574.5 1579.4,569.3 1565.9,563.3 1566.7,552.8 1570.4,548.4 1575.6,544.6 1578.6,539.4 1567.4,537.1 1559.9,538.2 1549.5,541.6" fill="#f5f1e6" stroke="#f5f1e6" stroke-width="0.6"/>
<polygon points="1490.5,666.5 1493.1,665.9 1492.2,668.4" fill="#f5f1e6" stroke="#f5f1e6" stroke-width="0.6"/>
<polygon points="1534.8,701.5 1542.2,698.3 1552.8,696.2 1558.1,689.8 1565.5,684.5 1580.4,683.5 1597.3,684.9 1599.0,687.1 1611.7,688.3 1626.5,685.6 1641.4,680.3 1656.2,673.9 1668.9,671.8 1681.6,668.6 1688.0,672.9 1700.7,672.9 1711.3,670.8 1713.4,663.3 1721.9,659.1 1726.1,652.7 1736.7,649.6 1747.3,646.4 1760.0,642.6 1760.0,730.7 1662.6,730.7 1632.9,729.4 1615.9,727.3 1599.0,725.0 1597.3,722.2 1584.6,719.5 1571.9,717.4 1567.6,714.2 1554.9,712.1 1544.3,708.9 1538.0,705.7" fill="#f6e9c7" stroke="#f6e9c7" stroke-width="0.6"/>
<polygon points="1730.4,599.8 1734.6,591.3 1747.3,588.1 1760.0,585.6 1760.0,619.3 1747.3,617.8 1736.7,614.6 1732.5,606.1" fill="#f6e9c7" stroke="#f6e9c7" stroke-width="0.6"/>
<polygon points="1730.4,599.6 1736.7,591.1 1747.3,588.0 1760.0,585.2 1760.0,599.6" fill="#f6e9c7" stroke="#f6e9c7" stroke-width="0.6"/>
<polygon points="1667.9,676.1 1679.5,673.5 1692.2,675.0 1704.9,678.2 1700.7,682.4 1713.4,682.0 1728.2,684.1 1719.8,687.7 1709.2,688.8 1698.6,691.9 1679.5,690.9 1673.2,683.5" fill="#f5f1e6" stroke="#f5f1e6" stroke-width="0.6"/>
<polygon points="1732.5,695.1 1743.1,692.6 1760.0,694.1 1760.0,700.4 1745.2,698.9" fill="#f5f1e6" stroke="#f5f1e6" stroke-width="0.6"/>
<polygon points="1614.9,718.8 1630.8,714.2 1631.8,708.9 1652.0,705.7 1673.2,704.7 1698.6,703.2 1704.9,706.8 1717.6,709.9 1736.7,711.0 1747.3,713.1 1754.7,719.5 1760.0,729.0 1726.1,728.6 1694.3,728.0 1662.6,726.9 1641.4,725.2 1626.5,721.6" fill="#e9d39d" stroke="#e9d39d" stroke-width="0.6"/>
<polygon points="1704.9,730.7 1760.0,729.0 1760.0,732.2 1704.9,732.2" fill="#d9b76f" stroke="#d9b76f" stroke-width="0.6"/>
<polygon points="1330.8,725.8 1337.1,719.5 1352.0,708.9 1341.4,705.7 1320.2,701.5 1313.8,698.3 1324.4,696.2 1339.3,693.0 1332.9,688.8 1328.7,684.5 1337.1,681.3 1352.0,679.2 1362.6,677.1 1366.8,673.9 1383.7,672.9 1396.5,669.7 1411.3,666.5 1424.0,663.3 1434.6,658.0 1447.3,652.7 1453.2,651.7 1453.2,729.4 1383.7,728.4 1352.0,727.3" fill="#c9eae6" stroke="#c9eae6" stroke-width="0.6"/>
<polygon points="1453.2,625.2 1463.8,624.1 1473.4,623.1 1477.6,628.4 1476.5,636.9 1471.2,642.2 1461.7,645.3 1453.2,647.4" fill="#c9eae6" stroke="#c9eae6" stroke-width="0.6"/>
<polygon points="1453.2,657.0 1458.5,658.0 1462.8,667.6 1464.9,676.1 1462.8,682.4 1464.9,688.8 1472.3,693.0 1475.5,699.4 1470.2,705.7 1480.8,708.9 1470.2,714.2 1480.8,716.3 1495.6,720.5 1512.6,725.8 1523.2,729.4 1453.2,731.1" fill="#c9eae6" stroke="#c9eae6" stroke-width="0.6"/>
<polygon points="1362.6,716.3 1371.0,712.1 1383.7,708.9 1402.8,707.8 1404.9,701.5 1407.1,696.2 1417.6,693.0 1432.5,689.8 1445.2,688.8 1453.2,688.8 1453.2,726.3 1436.7,726.3 1417.6,727.3 1394.3,726.3 1375.3,725.2 1366.8,720.5" fill="#9dd9d0" stroke="#9dd9d0" stroke-width="0.6"/>
<polygon points="1357.3,698.3 1366.8,696.2 1385.9,695.8 1377.4,698.3 1362.6,699.8" fill="#9dd9d0" stroke="#9dd9d0" stroke-width="0.6"/>
<polygon points="1453.2,682.4 1456.4,686.6 1455.4,703.6 1457.5,716.3 1453.2,724.8" fill="#9dd9d0" stroke="#9dd9d0" stroke-width="0.6"/>
<polygon points="1407.1,714.2 1417.6,711.0 1434.6,708.9 1447.3,706.8 1453.2,705.7 1453.2,716.3 1445.2,715.2 1430.4,716.3 1417.6,716.3" fill="#70c1b6" stroke="#70c1b6" stroke-width="0.6"/>
<polygon points="1403.9,719.5 1417.6,718.4 1434.6,717.4 1447.3,716.3 1453.2,718.4 1453.2,722.0 1436.7,723.1 1417.6,724.1 1409.2,722.2" fill="#70c1b6" stroke="#70c1b6" stroke-width="0.6"/>
<polygon points="1452.8,703.6 1454.9,707.8 1454.1,716.3 1452.8,718.8" fill="#70c1b6" stroke="#70c1b6" stroke-width="0.6"/>
</g>
<line x1="1453.5" y1="732.1" x2="1453.5" y2="437.6" stroke="#3b5f5a" stroke-width="2.0" stroke-dasharray="6.85 2.83"/>
<text x="1449.0" y="456.9" font-size="17.6" text-anchor="end" fill="#3b5f5a" font-weight="normal">before event</text>
<text x="1457.5" y="456.9" font-size="17.6" text-anchor="start" fill="#3b5f5a" font-weight="normal">after event</text>
<rect x="1302.0" y="437.6" width="454.5" height="294.5" fill="none" stroke="#111" stroke-width="1.25"/>
<line x1="1302.0" y1="732.1" x2="1302.0" y2="736.5" stroke="#111" stroke-width="1.25"/>
<line x1="1320.9" y1="732.1" x2="1320.9" y2="736.5" stroke="#111" stroke-width="1.25"/>
<line x1="1339.9" y1="732.1" x2="1339.9" y2="736.5" stroke="#111" stroke-width="1.25"/>
<line x1="1358.8" y1="732.1" x2="1358.8" y2="736.5" stroke="#111" stroke-width="1.25"/>
<line x1="1377.8" y1="732.1" x2="1377.8" y2="736.5" stroke="#111" stroke-width="1.25"/>
<line x1="1396.7" y1="732.1" x2="1396.7" y2="736.5" stroke="#111" stroke-width="1.25"/>
<line x1="1415.6" y1="732.1" x2="1415.6" y2="736.5" stroke="#111" stroke-width="1.25"/>
<line x1="1434.6" y1="732.1" x2="1434.6" y2="736.5" stroke="#111" stroke-width="1.25"/>
<line x1="1453.5" y1="732.1" x2="1453.5" y2="736.5" stroke="#111" stroke-width="1.25"/>
<line x1="1472.4" y1="732.1" x2="1472.4" y2="736.5" stroke="#111" stroke-width="1.25"/>
<line x1="1491.4" y1="732.1" x2="1491.4" y2="736.5" stroke="#111" stroke-width="1.25"/>
<line x1="1510.3" y1="732.1" x2="1510.3" y2="736.5" stroke="#111" stroke-width="1.25"/>
<line x1="1529.2" y1="732.1" x2="1529.2" y2="736.5" stroke="#111" stroke-width="1.25"/>
<line x1="1548.2" y1="732.1" x2="1548.2" y2="736.5" stroke="#111" stroke-width="1.25"/>
<line x1="1567.1" y1="732.1" x2="1567.1" y2="736.5" stroke="#111" stroke-width="1.25"/>
<line x1="1586.1" y1="732.1" x2="1586.1" y2="736.5" stroke="#111" stroke-width="1.25"/>
<line x1="1605.0" y1="732.1" x2="1605.0" y2="736.5" stroke="#111" stroke-width="1.25"/>
<line x1="1623.9" y1="732.1" x2="1623.9" y2="736.5" stroke="#111" stroke-width="1.25"/>
<line x1="1642.9" y1="732.1" x2="1642.9" y2="736.5" stroke="#111" stroke-width="1.25"/>
<line x1="1661.8" y1="732.1" x2="1661.8" y2="736.5" stroke="#111" stroke-width="1.25"/>
<line x1="1680.8" y1="732.1" x2="1680.8" y2="736.5" stroke="#111" stroke-width="1.25"/>
<line x1="1699.7" y1="732.1" x2="1699.7" y2="736.5" stroke="#111" stroke-width="1.25"/>
<line x1="1718.6" y1="732.1" x2="1718.6" y2="736.5" stroke="#111" stroke-width="1.25"/>
<line x1="1737.6" y1="732.1" x2="1737.6" y2="736.5" stroke="#111" stroke-width="1.25"/>
<line x1="1756.5" y1="732.1" x2="1756.5" y2="736.5" stroke="#111" stroke-width="1.25"/>
<text x="1302.0" y="756.1" font-size="20.3" text-anchor="middle" fill="#000" font-weight="normal">-8</text>
<text x="1377.8" y="756.1" font-size="20.3" text-anchor="middle" fill="#000" font-weight="normal">-4</text>
<text x="1453.5" y="756.1" font-size="20.3" text-anchor="middle" fill="#000" font-weight="normal">t</text>
<text x="1529.2" y="756.1" font-size="20.3" text-anchor="middle" fill="#000" font-weight="normal">+4</text>
<text x="1605.0" y="756.1" font-size="20.3" text-anchor="middle" fill="#000" font-weight="normal">+8</text>
<text x="1680.8" y="756.1" font-size="20.3" text-anchor="middle" fill="#000" font-weight="normal">+12</text>
<text x="1756.5" y="756.1" font-size="20.3" text-anchor="middle" fill="#000" font-weight="normal">+16</text>
<text x="1529.2" y="780.4" font-size="20.3" text-anchor="middle" fill="#000" font-weight="normal">Time [h]</text>
<line x1="1297.6" y1="711.5" x2="1302.0" y2="711.5" stroke="#111" stroke-width="1.25"/>
<text x="1292.7" y="719.0" font-size="20.3" text-anchor="end" fill="#000" font-weight="normal">1</text>
<line x1="1297.6" y1="681.7" x2="1302.0" y2="681.7" stroke="#111" stroke-width="1.25"/>
<text x="1292.7" y="689.2" font-size="20.3" text-anchor="end" fill="#000" font-weight="normal">2</text>
<line x1="1297.6" y1="651.9" x2="1302.0" y2="651.9" stroke="#111" stroke-width="1.25"/>
<text x="1292.7" y="659.4" font-size="20.3" text-anchor="end" fill="#000" font-weight="normal">3</text>
<line x1="1297.6" y1="622.1" x2="1302.0" y2="622.1" stroke="#111" stroke-width="1.25"/>
<text x="1292.7" y="629.6" font-size="20.3" text-anchor="end" fill="#000" font-weight="normal">4</text>
<line x1="1297.6" y1="592.3" x2="1302.0" y2="592.3" stroke="#111" stroke-width="1.25"/>
<text x="1292.7" y="599.8" font-size="20.3" text-anchor="end" fill="#000" font-weight="normal">5</text>
<line x1="1297.6" y1="562.5" x2="1302.0" y2="562.5" stroke="#111" stroke-width="1.25"/>
<text x="1292.7" y="570.0" font-size="20.3" text-anchor="end" fill="#000" font-weight="normal">6</text>
<line x1="1297.6" y1="532.7" x2="1302.0" y2="532.7" stroke="#111" stroke-width="1.25"/>
<text x="1292.7" y="540.2" font-size="20.3" text-anchor="end" fill="#000" font-weight="normal">7</text>
<line x1="1297.6" y1="502.9" x2="1302.0" y2="502.9" stroke="#111" stroke-width="1.25"/>
<text x="1292.7" y="510.4" font-size="20.3" text-anchor="end" fill="#000" font-weight="normal">8</text>
<line x1="1297.6" y1="473.1" x2="1302.0" y2="473.1" stroke="#111" stroke-width="1.25"/>
<text x="1292.7" y="480.6" font-size="20.3" text-anchor="end" fill="#000" font-weight="normal">9</text>
<line x1="1297.6" y1="443.3" x2="1302.0" y2="443.3" stroke="#111" stroke-width="1.25"/>
<text x="1292.7" y="450.8" font-size="20.3" text-anchor="end" fill="#000" font-weight="normal">10</text>
<text x="1529.2" y="430.0" font-size="25.2" text-anchor="middle" fill="#000" font-weight="normal">Absolute Humidity Anomaly (ERA5)</text>
<text x="1256.2" y="404.4" font-size="22.7" text-anchor="start" fill="#000" font-weight="bold">(f)</text>
<rect x="1761.2" y="713.39" width="22.6" height="19.01" fill="#663a07"/>
<rect x="1761.2" y="694.99" width="22.6" height="19.01" fill="#894f0a"/>
<rect x="1761.2" y="676.58" width="22.6" height="19.01" fill="#a96c1e"/>
<rect x="1761.2" y="658.18" width="22.6" height="19.01" fill="#c58e3d"/>
<rect x="1761.2" y="639.77" width="22.6" height="19.01" fill="#d9b76f"/>
<rect x="1761.2" y="621.36" width="22.6" height="19.01" fill="#e9d39d"/>
<rect x="1761.2" y="602.96" width="22.6" height="19.01" fill="#f6e9c7"/>
<rect x="1761.2" y="584.55" width="22.6" height="19.01" fill="#f5f1e6"/>
<rect x="1761.2" y="566.14" width="22.6" height="19.01" fill="#e6f1f0"/>
<rect x="1761.2" y="547.74" width="22.6" height="19.01" fill="#c9eae6"/>
<rect x="1761.2" y="529.33" width="22.6" height="19.01" fill="#9dd9d0"/>
<rect x="1761.2" y="510.93" width="22.6" height="19.01" fill="#70c1b6"/>
<rect x="1761.2" y="492.52" width="22.6" height="19.01" fill="#419f97"/>
<rect x="1761.2" y="474.11" width="22.6" height="19.01" fill="#1d8078"/>
<rect x="1761.2" y="455.71" width="22.6" height="19.01" fill="#016259"/>
<rect x="1761.2" y="437.30" width="22.6" height="19.01" fill="#00483d"/>
<rect x="1761.2" y="437.6" width="22.6" height="294.5" fill="none" stroke="#111" stroke-width="1.25"/>
<line x1="1783.8" y1="732.1" x2="1788.2" y2="732.1" stroke="#111" stroke-width="1.25"/>
<text x="1792.2" y="740.3" font-size="21.1" text-anchor="start" fill="#000" font-weight="normal">−2.0</text>
<line x1="1783.8" y1="695.3" x2="1788.2" y2="695.3" stroke="#111" stroke-width="1.25"/>
<text x="1792.2" y="703.5" font-size="21.1" text-anchor="start" fill="#000" font-weight="normal">−1.5</text>
<line x1="1783.8" y1="658.5" x2="1788.2" y2="658.5" stroke="#111" stroke-width="1.25"/>
<text x="1792.2" y="666.7" font-size="21.1" text-anchor="start" fill="#000" font-weight="normal">−1.0</text>
<line x1="1783.8" y1="621.7" x2="1788.2" y2="621.7" stroke="#111" stroke-width="1.25"/>
<text x="1792.2" y="629.9" font-size="21.1" text-anchor="start" fill="#000" font-weight="normal">−0.5</text>
<line x1="1783.8" y1="584.9" x2="1788.2" y2="584.9" stroke="#111" stroke-width="1.25"/>
<text x="1792.2" y="593.1" font-size="21.1" text-anchor="start" fill="#000" font-weight="normal">0.0</text>
<line x1="1783.8" y1="548.0" x2="1788.2" y2="548.0" stroke="#111" stroke-width="1.25"/>
<text x="1792.2" y="556.2" font-size="21.1" text-anchor="start" fill="#000" font-weight="normal">0.5</text>
<line x1="1783.8" y1="511.2" x2="1788.2" y2="511.2" stroke="#111" stroke-width="1.25"/>
<text x="1792.2" y="519.4" font-size="21.1" text-anchor="start" fill="#000" font-weight="normal">1.0</text>
<line x1="1783.8" y1="474.4" x2="1788.2" y2="474.4" stroke="#111" stroke-width="1.25"/>
<text x="1792.2" y="482.6" font-size="21.1" text-anchor="start" fill="#000" font-weight="normal">1.5</text>
<line x1="1783.8" y1="437.6" x2="1788.2" y2="437.6" stroke="#111" stroke-width="1.25"/>
<text x="1792.2" y="445.8" font-size="21.1" text-anchor="start" fill="#000" font-weight="normal">2.0</text>
<text x="1869.6" y="584.9" font-size="20.3" text-anchor="middle" transform="rotate(-90 1869.6 584.9)">ΔAH [g m<tspan font-size="14.2" dy="-7.2">−3</tspan><tspan dy="7.2">]</tspan></text>
</g>
</svg>
</body>
</html>
